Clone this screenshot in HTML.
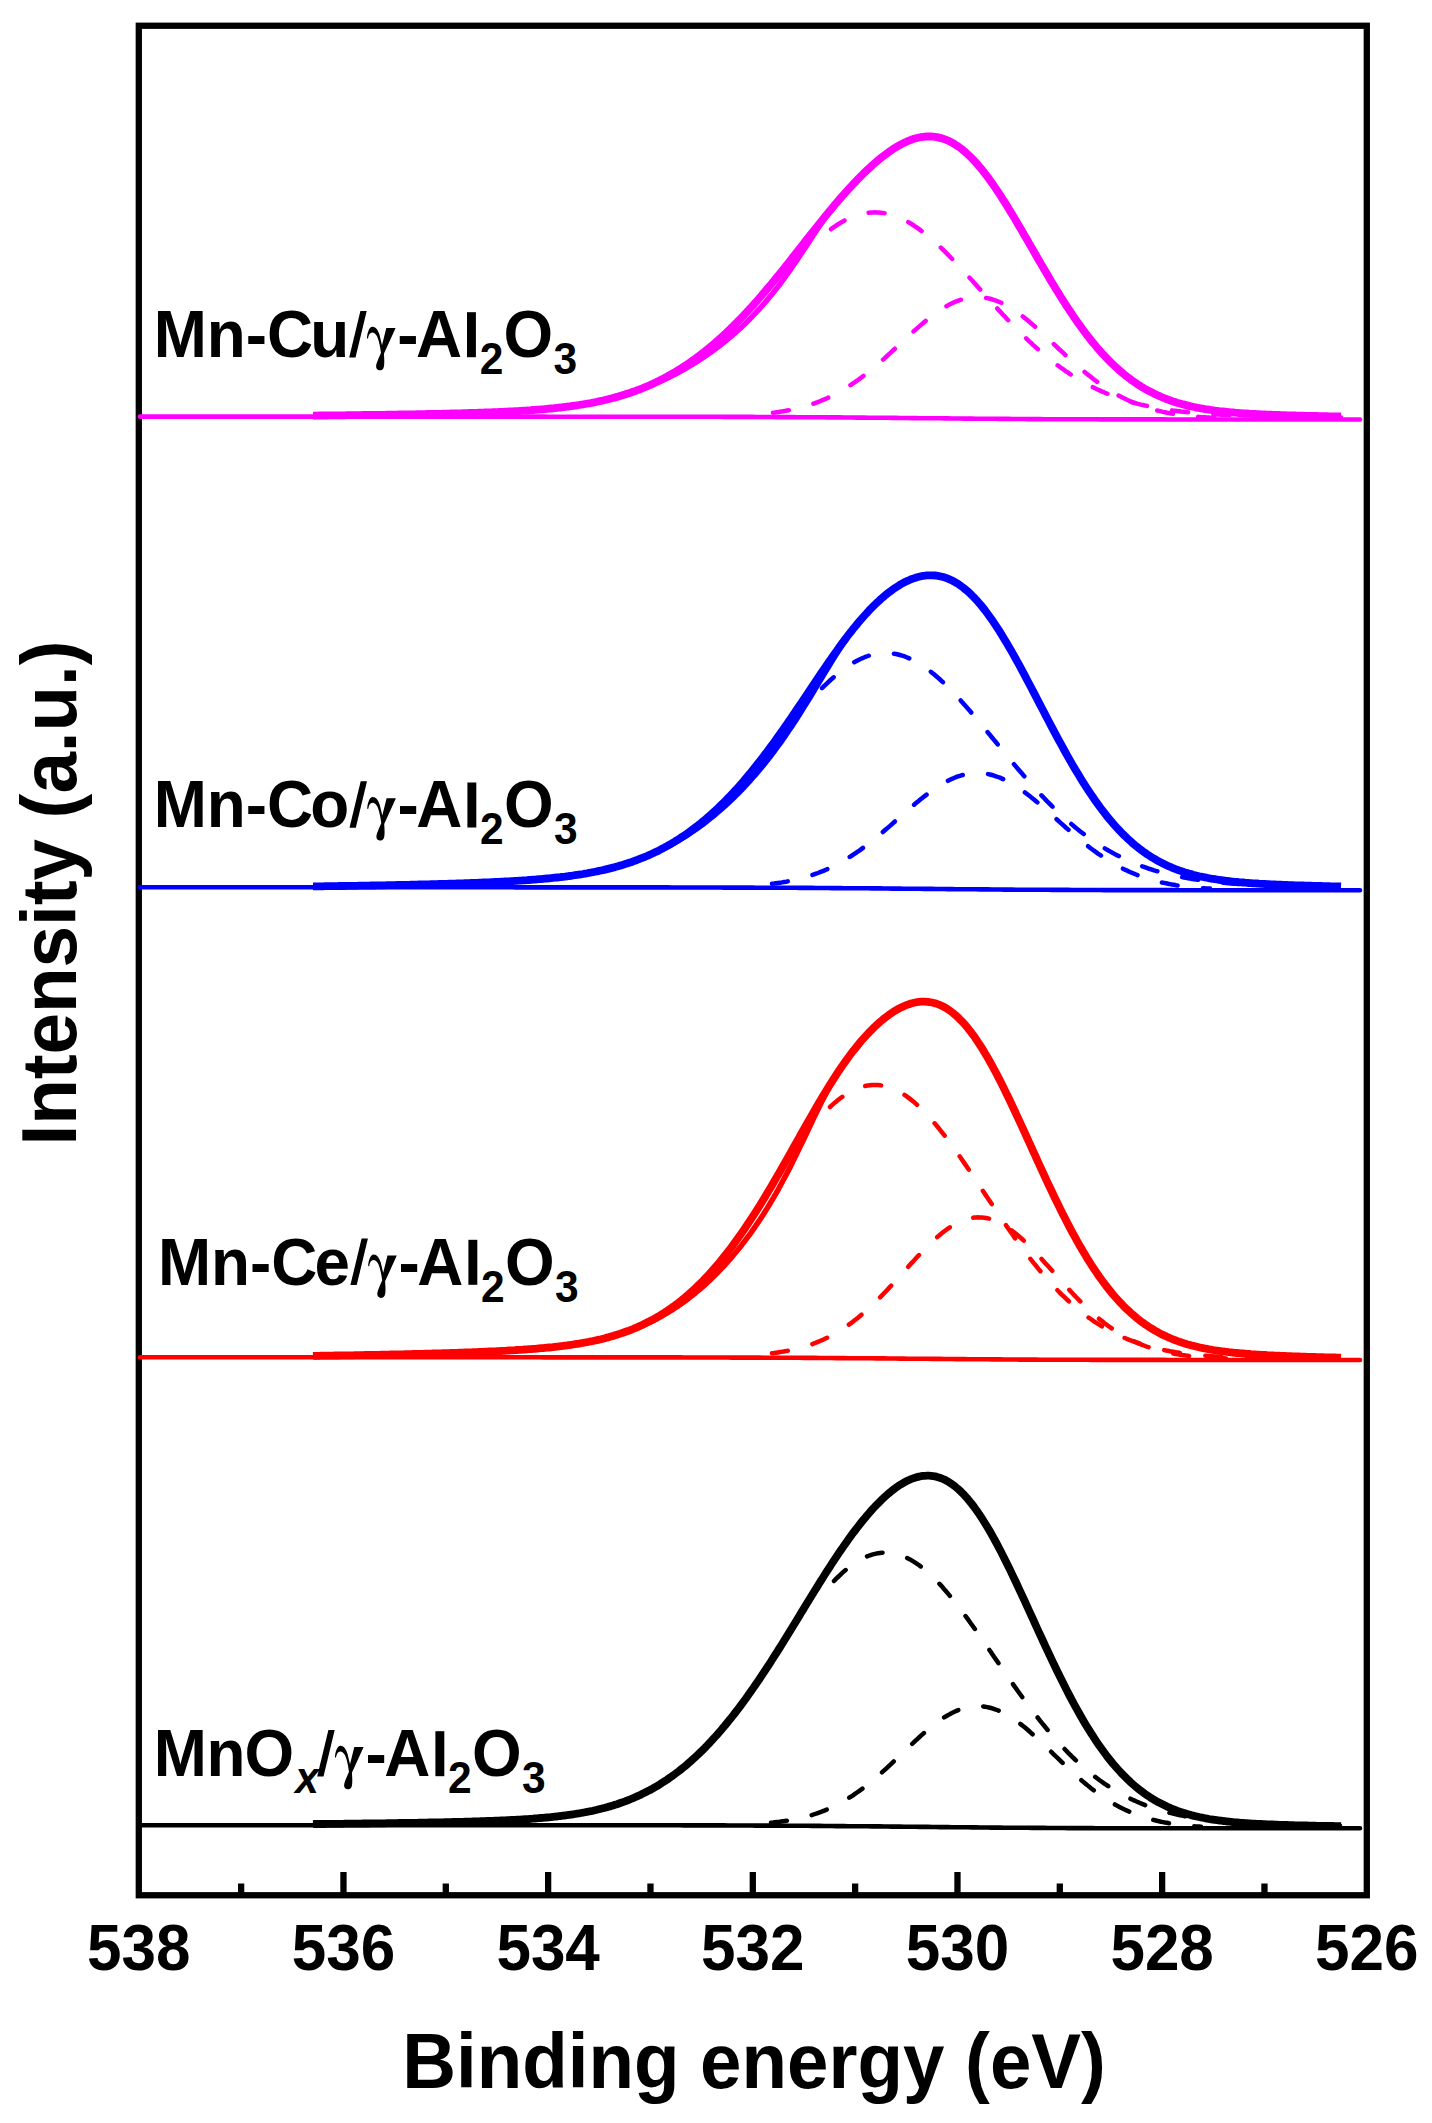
<!DOCTYPE html>
<html><head><meta charset="utf-8"><style>
html,body{margin:0;padding:0;background:#fff;}
svg{display:block;}
text{font-family:"Liberation Sans",sans-serif;font-weight:bold;fill:#000;}
.tl{font-size:62px;}
.at{font-size:74.5px;}
</style></head><body>
<svg width="1432" height="2123" viewBox="0 0 1432 2123">
<rect width="1432" height="2123" fill="#fff"/>
<rect x="138.8" y="25.75" width="1228" height="1869.5" fill="none" stroke="#000" stroke-width="6.3"/>
<path d="M140.0,416.6 L144.0,416.6 L148.0,416.6 L152.0,416.6 L156.0,416.6 L160.0,416.6 L164.0,416.6 L168.0,416.6 L172.0,416.6 L176.0,416.6 L180.0,416.6 L184.0,416.6 L188.0,416.6 L192.0,416.6 L196.0,416.6 L200.0,416.6 L204.0,416.6 L208.0,416.6 L212.0,416.6 L216.0,416.6 L220.0,416.6 L224.0,416.6 L228.0,416.6 L232.0,416.6 L236.0,416.6 L240.0,416.6 L244.0,416.6 L248.0,416.6 L252.0,416.6 L256.0,416.6 L260.0,416.6 L264.0,416.6 L268.0,416.6 L272.0,416.6 L276.0,416.6 L280.0,416.6 L284.0,416.6 L288.0,416.6 L292.0,416.6 L296.0,416.6 L300.0,416.6 L304.0,416.6 L308.0,416.6 L312.0,416.6 L316.0,416.6 L320.0,416.6 L324.0,416.6 L328.0,416.6 L332.0,416.6 L336.0,416.6 L340.0,416.6 L344.0,416.6 L348.0,416.6 L352.0,416.6 L356.0,416.6 L360.0,416.6 L364.0,416.6 L368.0,416.6 L372.0,416.6 L376.0,416.6 L380.0,416.6 L384.0,416.6 L388.0,416.6 L392.0,416.6 L396.0,416.6 L400.0,416.6 L404.0,416.6 L408.0,416.6 L412.0,416.6 L416.0,416.6 L420.0,416.6 L424.0,416.6 L428.0,416.6 L432.0,416.6 L436.0,416.6 L440.0,416.6 L444.0,416.6 L448.0,416.6 L452.0,416.6 L456.0,416.6 L460.0,416.6 L464.0,416.6 L468.0,416.6 L472.0,416.6 L476.0,416.6 L480.0,416.6 L484.0,416.6 L488.0,416.6 L492.0,416.6 L496.0,416.6 L500.0,416.6 L504.0,416.6 L508.0,416.6 L512.0,416.6 L516.0,416.6 L520.0,416.6 L524.0,416.6 L528.0,416.6 L532.0,416.6 L536.0,416.6 L540.0,416.6 L544.0,416.6 L548.0,416.7 L552.0,416.7 L556.0,416.7 L560.0,416.7 L564.0,416.7 L568.0,416.7 L572.0,416.7 L576.0,416.7 L580.0,416.7 L584.0,416.7 L588.0,416.7 L592.0,416.7 L596.0,416.7 L600.0,416.7 L604.0,416.7 L608.0,416.7 L612.0,416.7 L616.0,416.7 L620.0,416.7 L624.0,416.7 L628.0,416.7 L632.0,416.7 L636.0,416.7 L640.0,416.7 L644.0,416.7 L648.0,416.7 L652.0,416.7 L656.0,416.7 L660.0,416.7 L664.0,416.7 L668.0,416.7 L672.0,416.7 L676.0,416.8 L680.0,416.8 L684.0,416.8 L688.0,416.8 L692.0,416.8 L696.0,416.8 L700.0,416.8 L704.0,416.8 L708.0,416.8 L712.0,416.8 L716.0,416.8 L720.0,416.8 L724.0,416.9 L728.0,416.9 L732.0,416.9 L736.0,416.9 L740.0,416.9 L744.0,416.9 L748.0,416.9 L752.0,416.9 L756.0,417.0 L760.0,417.0 L764.0,417.0 L768.0,417.0 L772.0,417.0 L776.0,417.1 L780.0,417.1 L784.0,417.1 L788.0,417.1 L792.0,417.1 L796.0,417.2 L800.0,417.2 L804.0,417.2 L808.0,417.2 L812.0,417.3 L816.0,417.3 L820.0,417.3 L824.0,417.3 L828.0,417.4 L832.0,417.4 L836.0,417.4 L840.0,417.4 L844.0,417.5 L848.0,417.5 L852.0,417.5 L856.0,417.6 L860.0,417.6 L864.0,417.6 L868.0,417.7 L872.0,417.7 L876.0,417.7 L880.0,417.8 L884.0,417.8 L888.0,417.8 L892.0,417.9 L896.0,417.9 L900.0,418.0 L904.0,418.0 L908.0,418.0 L912.0,418.1 L916.0,418.1 L920.0,418.2 L924.0,418.2 L928.0,418.2 L932.0,418.3 L936.0,418.3 L940.0,418.3 L944.0,418.4 L948.0,418.4 L952.0,418.5 L956.0,418.5 L960.0,418.5 L964.0,418.6 L968.0,418.6 L972.0,418.6 L976.0,418.7 L980.0,418.7 L984.0,418.7 L988.0,418.8 L992.0,418.8 L996.0,418.8 L1000.0,418.9 L1004.0,418.9 L1008.0,418.9 L1012.0,419.0 L1016.0,419.0 L1020.0,419.0 L1024.0,419.0 L1028.0,419.1 L1032.0,419.1 L1036.0,419.1 L1040.0,419.1 L1044.0,419.2 L1048.0,419.2 L1052.0,419.2 L1056.0,419.2 L1060.0,419.2 L1064.0,419.2 L1068.0,419.3 L1072.0,419.3 L1076.0,419.3 L1080.0,419.3 L1084.0,419.3 L1088.0,419.3 L1092.0,419.3 L1096.0,419.3 L1100.0,419.4 L1104.0,419.4 L1108.0,419.4 L1112.0,419.4 L1116.0,419.4 L1120.0,419.4 L1124.0,419.4 L1128.0,419.4 L1132.0,419.4 L1136.0,419.4 L1140.0,419.4 L1144.0,419.4 L1148.0,419.4 L1152.0,419.4 L1156.0,419.4 L1160.0,419.4 L1164.0,419.4 L1168.0,419.5 L1172.0,419.5 L1176.0,419.5 L1180.0,419.5 L1184.0,419.5 L1188.0,419.5 L1192.0,419.5 L1196.0,419.5 L1200.0,419.5 L1204.0,419.5 L1208.0,419.5 L1212.0,419.5 L1216.0,419.5 L1220.0,419.5 L1224.0,419.5 L1228.0,419.5 L1232.0,419.5 L1236.0,419.5 L1240.0,419.5 L1244.0,419.5 L1248.0,419.5 L1252.0,419.5 L1256.0,419.5 L1260.0,419.5 L1264.0,419.5 L1268.0,419.5 L1272.0,419.5 L1276.0,419.5 L1280.0,419.5 L1284.0,419.5 L1288.0,419.5 L1292.0,419.5 L1296.0,419.5 L1300.0,419.5 L1304.0,419.5 L1308.0,419.5 L1312.0,419.5 L1316.0,419.5 L1320.0,419.5 L1324.0,419.5 L1328.0,419.5 L1332.0,419.5 L1336.0,419.5 L1340.0,419.5 L1344.0,419.5 L1348.0,419.5 L1352.0,419.5 L1356.0,419.5 L1360.0,419.5" stroke="#ff00ff" stroke-width="4.6" stroke-linecap="round" stroke-linejoin="round" fill="none"/>
<path d="M831.0,229.1 L833.0,227.7 L835.0,226.3 L837.0,225.0 L839.0,223.7 L841.0,222.5 L843.0,221.4 L845.0,220.3 L847.0,219.3 L849.0,218.4 L851.0,217.5 L853.0,216.7 L855.0,215.9 L857.0,215.3 L859.0,214.7 L861.0,214.1 L863.0,213.6 L865.0,213.2 L867.0,212.9 L869.0,212.7 L871.0,212.5 L873.0,212.4 L875.0,212.3 L877.0,212.4 L879.0,212.5 L881.0,212.7 L883.0,212.9 L885.0,213.2 L887.0,213.6 L889.0,214.1 L891.0,214.6 L893.0,215.2 L895.0,215.9 L897.0,216.7 L899.0,217.5 L901.0,218.4 L903.0,219.3 L905.0,220.3 L907.0,221.4 L909.0,222.5 L911.0,223.7 L913.0,225.0 L915.0,226.3 L917.0,227.7 L919.0,229.1 L921.0,230.6 L923.0,232.1 L925.0,233.6 L927.0,235.3 L929.0,236.9 L931.0,238.6 L933.0,240.4 L935.0,242.2 L937.0,244.0 L939.0,245.9 L941.0,247.8 L943.0,249.7 L945.0,251.7 L947.0,253.7 L949.0,255.7 L951.0,257.8 L953.0,259.8 L955.0,261.9 L957.0,264.1 L959.0,266.2 L961.0,268.4 L963.0,270.5 L965.0,272.7 L967.0,274.9 L969.0,277.1 L971.0,279.3 L973.0,281.5 L975.0,283.8 L977.0,286.0 L979.0,288.2 L981.0,290.5 L983.0,292.7 L985.0,294.9 L987.0,297.2 L989.0,299.4 L991.0,301.6 L993.0,303.8 L995.0,306.0 L997.0,308.2 L999.0,310.4 L1001.0,312.5 L1003.0,314.7 L1005.0,316.8 L1007.0,319.0 L1009.0,321.1 L1011.0,323.2 L1013.0,325.2 L1015.0,327.3 L1017.0,329.3 L1019.0,331.3 L1021.0,333.3 L1023.0,335.3 L1025.0,337.2 L1027.0,339.2 L1029.0,341.1 L1031.0,342.9 L1033.0,344.8 L1035.0,346.6 L1037.0,348.4 L1039.0,350.2 L1041.0,351.9 L1043.0,353.6 L1045.0,355.3 L1047.0,357.0 L1049.0,358.6 L1051.0,360.2 L1053.0,361.8 L1055.0,363.3 L1057.0,364.8 L1059.0,366.3 L1061.0,367.8 L1063.0,369.2 L1065.0,370.6 L1067.0,372.0 L1069.0,373.3 L1071.0,374.7 L1073.0,375.9 L1075.0,377.2 L1077.0,378.4 L1079.0,379.6 L1081.0,380.8 L1083.0,382.0 L1085.0,383.1 L1087.0,384.2 L1089.0,385.2 L1091.0,386.3 L1093.0,387.3 L1095.0,388.3 L1097.0,389.2 L1099.0,390.1 L1101.0,391.1 L1103.0,391.9 L1105.0,392.8 L1107.0,393.6 L1109.0,394.4 L1111.0,395.2 L1113.0,396.0 L1115.0,396.7 L1117.0,397.5 L1119.0,398.2 L1121.0,398.8 L1123.0,399.5 L1125.0,400.1 L1127.0,400.8 L1129.0,401.4 L1131.0,401.9 L1133.0,402.5 L1135.0,403.0 L1137.0,403.6 L1139.0,404.1 L1141.0,404.6 L1143.0,405.0 L1145.0,405.5 L1147.0,405.9 L1149.0,406.4 L1151.0,406.8 L1153.0,407.2 L1155.0,407.6 L1157.0,407.9 L1159.0,408.3 L1161.0,408.6 L1163.0,409.0 L1165.0,409.3 L1167.0,409.6 L1169.0,409.9 L1171.0,410.2 L1173.0,410.5 L1175.0,410.7 L1177.0,411.0 L1179.0,411.2 L1181.0,411.5 L1183.0,411.7 L1185.0,411.9 L1187.0,412.1 L1189.0,412.3 L1191.0,412.5 L1193.0,412.7 L1195.0,412.9 L1197.0,413.1 L1199.0,413.2 L1201.0,413.4 L1203.0,413.6 L1205.0,413.7 L1207.0,413.8 L1209.0,414.0 L1211.0,414.1 L1213.0,414.2 L1215.0,414.4 L1217.0,414.5 L1219.0,414.6 L1221.0,414.7 L1223.0,414.8 L1225.0,414.9 L1227.0,415.0 L1229.0,415.1 L1231.0,415.2 L1233.0,415.3 L1235.0,415.4 L1237.0,415.4 L1239.0,415.5 L1241.0,415.6 L1243.0,415.7 L1245.0,415.7 L1247.0,415.8 L1249.0,415.9 L1251.0,415.9 L1253.0,416.0 L1255.0,416.0 L1257.0,416.1 L1259.0,416.1 L1261.0,416.2 L1263.0,416.2 L1265.0,416.3 L1267.0,416.3 L1269.0,416.4 L1271.0,416.4 L1273.0,416.5 L1275.0,416.5 L1277.0,416.6 L1279.0,416.6 L1281.0,416.6 L1283.0,416.7 L1285.0,416.7 L1287.0,416.7 L1289.0,416.8 L1291.0,416.8 L1293.0,416.8 L1295.0,416.9 L1297.0,416.9 L1299.0,416.9 L1301.0,417.0 L1303.0,417.0 L1305.0,417.0 L1307.0,417.0 L1309.0,417.1 L1311.0,417.1 L1313.0,417.1 L1315.0,417.1 L1317.0,417.2 L1319.0,417.2 L1321.0,417.2 L1323.0,417.2 L1325.0,417.2 L1327.0,417.3 L1329.0,417.3 L1331.0,417.3 L1333.0,417.3 L1335.0,417.3 L1337.0,417.4 L1339.0,417.4 L1341.0,417.4" stroke="#ff00ff" stroke-width="4.5" stroke-dasharray="16 25.5" stroke-linecap="round" fill="none"/>
<path d="M773.0,412.7 L775.0,412.5 L777.0,412.2 L779.0,411.9 L781.0,411.6 L783.0,411.3 L785.0,410.9 L787.0,410.5 L789.0,410.2 L791.0,409.8 L793.0,409.3 L795.0,408.9 L797.0,408.4 L799.0,407.9 L801.0,407.4 L803.0,406.9 L805.0,406.3 L807.0,405.7 L809.0,405.1 L811.0,404.4 L813.0,403.8 L815.0,403.1 L817.0,402.3 L819.0,401.6 L821.0,400.8 L823.0,399.9 L825.0,399.1 L827.0,398.2 L829.0,397.3 L831.0,396.3 L833.0,395.3 L835.0,394.3 L837.0,393.2 L839.0,392.1 L841.0,391.0 L843.0,389.8 L845.0,388.6 L847.0,387.4 L849.0,386.1 L851.0,384.8 L853.0,383.4 L855.0,382.1 L857.0,380.7 L859.0,379.2 L861.0,377.7 L863.0,376.2 L865.0,374.7 L867.0,373.1 L869.0,371.5 L871.0,369.9 L873.0,368.2 L875.0,366.5 L877.0,364.8 L879.0,363.1 L881.0,361.4 L883.0,359.6 L885.0,357.8 L887.0,356.0 L889.0,354.2 L891.0,352.3 L893.0,350.5 L895.0,348.6 L897.0,346.8 L899.0,344.9 L901.0,343.0 L903.0,341.2 L905.0,339.3 L907.0,337.5 L909.0,335.6 L911.0,333.8 L913.0,331.9 L915.0,330.1 L917.0,328.4 L919.0,326.6 L921.0,324.9 L923.0,323.2 L925.0,321.5 L927.0,319.8 L929.0,318.2 L931.0,316.7 L933.0,315.1 L935.0,313.7 L937.0,312.2 L939.0,310.8 L941.0,309.5 L943.0,308.2 L945.0,307.0 L947.0,305.9 L949.0,304.8 L951.0,303.8 L953.0,302.8 L955.0,301.9 L957.0,301.1 L959.0,300.3 L961.0,299.7 L963.0,299.1 L965.0,298.5 L967.0,298.1 L969.0,297.7 L971.0,297.4 L973.0,297.2 L975.0,297.1 L977.0,297.1 L979.0,297.1 L981.0,297.2 L983.0,297.4 L985.0,297.7 L987.0,298.1 L989.0,298.5 L991.0,299.0 L993.0,299.6 L995.0,300.3 L997.0,301.0 L999.0,301.8 L1001.0,302.7 L1003.0,303.7 L1005.0,304.7 L1007.0,305.8 L1009.0,307.0 L1011.0,308.2 L1013.0,309.5 L1015.0,310.8 L1017.0,312.2 L1019.0,313.6 L1021.0,315.1 L1023.0,316.6 L1025.0,318.2 L1027.0,319.8 L1029.0,321.5 L1031.0,323.2 L1033.0,324.9 L1035.0,326.6 L1037.0,328.4 L1039.0,330.2 L1041.0,332.1 L1043.0,333.9 L1045.0,335.8 L1047.0,337.6 L1049.0,339.5 L1051.0,341.4 L1053.0,343.3 L1055.0,345.2 L1057.0,347.1 L1059.0,349.0 L1061.0,350.8 L1063.0,352.7 L1065.0,354.6 L1067.0,356.4 L1069.0,358.3 L1071.0,360.1 L1073.0,361.9 L1075.0,363.7 L1077.0,365.5 L1079.0,367.2 L1081.0,368.9 L1083.0,370.6 L1085.0,372.3 L1087.0,373.9 L1089.0,375.5 L1091.0,377.1 L1093.0,378.7 L1095.0,380.2 L1097.0,381.7 L1099.0,383.1 L1101.0,384.5 L1103.0,385.9 L1105.0,387.3 L1107.0,388.6 L1109.0,389.9 L1111.0,391.1 L1113.0,392.3 L1115.0,393.5 L1117.0,394.6 L1119.0,395.7 L1121.0,396.8 L1123.0,397.8 L1125.0,398.8 L1127.0,399.8 L1129.0,400.7 L1131.0,401.6 L1133.0,402.4 L1135.0,403.3 L1137.0,404.1 L1139.0,404.8 L1141.0,405.6 L1143.0,406.3 L1145.0,407.0 L1147.0,407.6 L1149.0,408.2 L1151.0,408.8 L1153.0,409.4 L1155.0,409.9 L1157.0,410.4 L1159.0,410.9 L1161.0,411.4 L1163.0,411.9 L1165.0,412.3 L1167.0,412.7 L1169.0,413.1 L1171.0,413.4 L1173.0,413.8 L1175.0,414.1 L1177.0,414.4 L1179.0,414.7 L1181.0,415.0 L1183.0,415.3 L1185.0,415.5 L1187.0,415.7 L1189.0,416.0 L1191.0,416.2 L1193.0,416.4 L1195.0,416.6 L1197.0,416.7 L1199.0,416.9 L1201.0,417.1 L1203.0,417.2 L1205.0,417.3 L1207.0,417.5 L1209.0,417.6 L1211.0,417.7 L1213.0,417.8 L1215.0,417.9" stroke="#ff00ff" stroke-width="4.5" stroke-dasharray="16 25.5" stroke-linecap="round" fill="none"/>
<path d="M627.0,393.8 L629.0,393.2 L631.0,392.6 L633.0,391.9 L635.1,391.2 L637.1,390.5 L639.1,389.8 L641.1,389.1 L643.1,388.3 L645.2,387.6 L647.2,386.8 L649.2,386.0 L651.3,385.2 L653.3,384.3 L655.4,383.5 L657.4,382.6 L659.4,381.7 L661.5,380.8 L663.6,379.8 L665.6,378.9 L667.7,377.9 L669.8,376.9 L671.8,375.8 L673.9,374.8 L676.0,373.7 L678.1,372.6 L680.1,371.5 L682.2,370.3 L684.3,369.2 L686.4,368.0 L688.5,366.7 L690.6,365.5 L692.7,364.2 L694.9,362.9 L697.0,361.6 L699.1,360.2 L701.2,358.8 L703.3,357.4 L705.5,356.0 L707.6,354.5 L709.7,353.0 L711.9,351.5 L714.0,349.9 L716.1,348.3 L718.3,346.7 L720.4,345.1 L722.5,343.4 L724.7,341.7 L726.8,340.0 L728.9,338.2 L731.1,336.4 L733.2,334.5 L735.3,332.7 L737.4,330.8 L739.6,328.9 L741.7,326.9 L743.8,324.9 L745.9,322.9 L748.0,320.8 L750.1,318.7 L752.1,316.6 L754.2,314.4 L756.3,312.3 L758.3,310.0 L760.4,307.8 L762.4,305.5 L764.4,303.2 L766.4,300.9 L768.4,298.5 L770.4,296.1 L772.4,293.7 L774.3,291.2 L776.3,288.8 L778.2,286.3 L780.2,283.7 L782.1,281.2 L784.0,278.6 L785.8,276.0 L787.7,273.4 L789.6,270.8 L791.4,268.1 L793.3,265.5 L795.1,262.8 L796.9,260.1 L798.7,257.4 L800.5,254.7 L802.3,252.0 L804.1,249.3 L805.9,246.6 L807.7,243.9 L809.5,241.2 L811.2,238.4 L813.0,235.7 L814.8,233.0 L816.6,230.3 L818.4,227.7 L820.2,225.0 L822.0,222.4 L823.8,219.7 L825.6,217.1 L827.4,214.5 L829.3,212.0 L831.1,209.5 L833.0,207.0" stroke="#ff00ff" stroke-width="5.5" stroke-linejoin="round" fill="none"/>
<path d="M313.0,415.6 L315.0,415.6 L317.0,415.6 L319.0,415.5 L321.0,415.5 L323.0,415.5 L325.0,415.5 L327.0,415.5 L329.0,415.4 L331.0,415.4 L333.0,415.4 L335.0,415.4 L337.0,415.4 L339.0,415.3 L341.0,415.3 L343.0,415.3 L345.0,415.3 L347.0,415.2 L349.0,415.2 L351.0,415.2 L353.0,415.2 L355.0,415.1 L357.0,415.1 L359.0,415.1 L361.0,415.1 L363.0,415.0 L365.0,415.0 L367.0,415.0 L369.0,415.0 L371.0,414.9 L373.0,414.9 L375.0,414.9 L377.0,414.9 L379.0,414.8 L381.0,414.8 L383.0,414.8 L385.0,414.8 L387.0,414.7 L389.0,414.7 L391.0,414.7 L393.0,414.6 L395.0,414.6 L397.0,414.6 L399.0,414.5 L401.0,414.5 L403.0,414.5 L405.0,414.4 L407.0,414.4 L409.0,414.4 L411.0,414.3 L413.0,414.3 L415.0,414.3 L417.0,414.2 L419.0,414.2 L421.0,414.2 L423.0,414.1 L425.0,414.1 L427.0,414.0 L429.0,414.0 L431.0,414.0 L433.0,413.9 L435.0,413.9 L437.0,413.8 L439.0,413.8 L441.0,413.8 L443.0,413.7 L445.0,413.7 L447.0,413.6 L449.0,413.6 L451.0,413.5 L453.0,413.5 L455.0,413.4 L457.0,413.4 L459.0,413.3 L461.0,413.3 L463.0,413.2 L465.0,413.2 L467.0,413.1 L469.0,413.0 L471.0,413.0 L473.0,412.9 L475.0,412.9 L477.0,412.8 L479.0,412.7 L481.0,412.7 L483.0,412.6 L485.0,412.5 L487.0,412.4 L489.0,412.4 L491.0,412.3 L493.0,412.2 L495.0,412.1 L497.0,412.1 L499.0,412.0 L501.0,411.9 L503.0,411.8 L505.0,411.7 L507.0,411.6 L509.0,411.5 L511.0,411.4 L513.0,411.3 L515.0,411.2 L517.0,411.1 L519.0,411.0 L521.0,410.8 L523.0,410.7 L525.0,410.6 L527.0,410.5 L529.0,410.3 L531.0,410.2 L533.0,410.0 L535.0,409.9 L537.0,409.7 L539.0,409.6 L541.0,409.4 L543.0,409.3 L545.0,409.1 L547.0,408.9 L549.0,408.7 L551.0,408.5 L553.0,408.3 L555.0,408.1 L557.0,407.9 L559.0,407.7 L561.0,407.5 L563.0,407.2 L565.0,407.0 L567.0,406.7 L569.0,406.5 L571.0,406.2 L573.0,405.9 L575.0,405.6 L577.0,405.3 L579.0,405.0 L581.0,404.7 L583.0,404.4 L585.0,404.0 L587.0,403.7 L589.0,403.3 L591.0,403.0 L593.0,402.6 L595.0,402.2 L597.0,401.8 L599.0,401.3 L601.0,400.9 L603.0,400.5 L605.0,400.0 L607.0,399.5 L609.0,399.0 L611.0,398.5 L613.0,398.0 L615.0,397.4 L617.0,396.9 L619.0,396.3 L621.0,395.7 L623.0,395.1 L625.0,394.5 L627.0,393.8 L629.0,393.2 L631.0,392.5 L633.0,391.8 L635.0,391.1 L637.0,390.3 L639.0,389.6 L641.0,388.8 L643.0,388.0 L645.0,387.2 L647.0,386.3 L649.0,385.5 L651.0,384.6 L653.0,383.7 L655.0,382.7 L657.0,381.8 L659.0,380.8 L661.0,379.8 L663.0,378.8 L665.0,377.7 L667.0,376.6 L669.0,375.5 L671.0,374.4 L673.0,373.2 L675.0,372.1 L677.0,370.9 L679.0,369.6 L681.0,368.4 L683.0,367.1 L685.0,365.8 L687.0,364.5 L689.0,363.1 L691.0,361.7 L693.0,360.3 L695.0,358.9 L697.0,357.4 L699.0,355.9 L701.0,354.4 L703.0,352.8 L705.0,351.3 L707.0,349.6 L709.0,348.0 L711.0,346.4 L713.0,344.7 L715.0,343.0 L717.0,341.2 L719.0,339.4 L721.0,337.6 L723.0,335.8 L725.0,334.0 L727.0,332.1 L729.0,330.2 L731.0,328.2 L733.0,326.3 L735.0,324.3 L737.0,322.3 L739.0,320.2 L741.0,318.2 L743.0,316.1 L745.0,314.0 L747.0,311.8 L749.0,309.7 L751.0,307.5 L753.0,305.3 L755.0,303.0 L757.0,300.8 L759.0,298.5 L761.0,296.2 L763.0,293.8 L765.0,291.5 L767.0,289.1 L769.0,286.8 L771.0,284.4 L773.0,281.9 L775.0,279.5 L777.0,277.1 L779.0,274.6 L781.0,272.1 L783.0,269.6 L785.0,267.1 L787.0,264.6 L789.0,262.1 L791.0,259.6 L793.0,257.0 L795.0,254.5 L797.0,252.0 L799.0,249.4 L801.0,246.9 L803.0,244.3 L805.0,241.8 L807.0,239.2 L809.0,236.7 L811.0,234.1 L813.0,231.6 L815.0,229.1 L817.0,226.6 L819.0,224.1 L821.0,221.6 L823.0,219.1 L825.0,216.6 L827.0,214.2 L829.0,211.8 L831.0,209.4 L833.0,207.0 L835.0,204.6 L837.0,202.2 L839.0,199.9 L841.0,197.6 L843.0,195.3 L845.0,193.1 L847.0,190.8 L849.0,188.6 L851.0,186.5 L853.0,184.3 L855.0,182.2 L857.0,180.1 L859.0,178.1 L861.0,176.0 L863.0,174.1 L865.0,172.1 L867.0,170.2 L869.0,168.3 L871.0,166.5 L873.0,164.7 L875.0,162.9 L877.0,161.2 L879.0,159.5 L881.0,157.9 L883.0,156.3 L885.0,154.8 L887.0,153.3 L889.0,151.8 L891.0,150.5 L893.0,149.1 L895.0,147.8 L897.0,146.6 L899.0,145.5 L901.0,144.4 L903.0,143.3 L905.0,142.4 L907.0,141.4 L909.0,140.6 L911.0,139.8 L913.0,139.1 L915.0,138.5 L917.0,138.0 L919.0,137.5 L921.0,137.1 L923.0,136.8 L925.0,136.6 L927.0,136.5 L929.0,136.4 L931.0,136.5 L933.0,136.6 L935.0,136.8 L937.0,137.1 L939.0,137.6 L941.0,138.1 L943.0,138.7 L945.0,139.4 L947.0,140.2 L949.0,141.1 L951.0,142.1 L953.0,143.2 L955.0,144.4 L957.0,145.7 L959.0,147.0 L961.0,148.5 L963.0,150.1 L965.0,151.8 L967.0,153.6 L969.0,155.5 L971.0,157.4 L973.0,159.5 L975.0,161.6 L977.0,163.8 L979.0,166.2 L981.0,168.6 L983.0,171.0 L985.0,173.6 L987.0,176.2 L989.0,178.9 L991.0,181.7 L993.0,184.5 L995.0,187.4 L997.0,190.4 L999.0,193.4 L1001.0,196.4 L1003.0,199.6 L1005.0,202.7 L1007.0,205.9 L1009.0,209.2 L1011.0,212.5 L1013.0,215.8 L1015.0,219.1 L1017.0,222.5 L1019.0,225.9 L1021.0,229.3 L1023.0,232.7 L1025.0,236.2 L1027.0,239.6 L1029.0,243.1 L1031.0,246.6 L1033.0,250.0 L1035.0,253.5 L1037.0,257.0 L1039.0,260.4 L1041.0,263.9 L1043.0,267.3 L1045.0,270.7 L1047.0,274.1 L1049.0,277.5 L1051.0,280.9 L1053.0,284.2 L1055.0,287.5 L1057.0,290.8 L1059.0,294.0 L1061.0,297.2 L1063.0,300.4 L1065.0,303.5 L1067.0,306.6 L1069.0,309.7 L1071.0,312.7 L1073.0,315.6 L1075.0,318.6 L1077.0,321.4 L1079.0,324.3 L1081.0,327.1 L1083.0,329.8 L1085.0,332.5 L1087.0,335.1 L1089.0,337.7 L1091.0,340.2 L1093.0,342.7 L1095.0,345.1 L1097.0,347.5 L1099.0,349.8 L1101.0,352.1 L1103.0,354.3 L1105.0,356.4 L1107.0,358.5 L1109.0,360.6 L1111.0,362.6 L1113.0,364.5 L1115.0,366.4 L1117.0,368.2 L1119.0,370.0 L1121.0,371.8 L1123.0,373.4 L1125.0,375.1 L1127.0,376.7 L1129.0,378.2 L1131.0,379.7 L1133.0,381.1 L1135.0,382.5 L1137.0,383.9 L1139.0,385.2 L1141.0,386.4 L1143.0,387.7 L1145.0,388.8 L1147.0,390.0 L1149.0,391.1 L1151.0,392.1 L1153.0,393.1 L1155.0,394.1 L1157.0,395.0 L1159.0,395.9 L1161.0,396.8 L1163.0,397.7 L1165.0,398.5 L1167.0,399.2 L1169.0,400.0 L1171.0,400.7 L1173.0,401.4 L1175.0,402.0 L1177.0,402.7 L1179.0,403.3 L1181.0,403.8 L1183.0,404.4 L1185.0,404.9 L1187.0,405.4 L1189.0,405.9 L1191.0,406.4 L1193.0,406.8 L1195.0,407.2 L1197.0,407.6 L1199.0,408.0 L1201.0,408.4 L1203.0,408.7 L1205.0,409.1 L1207.0,409.4 L1209.0,409.7 L1211.0,410.0 L1213.0,410.3 L1215.0,410.6 L1217.0,410.8 L1219.0,411.1 L1221.0,411.3 L1223.0,411.5 L1225.0,411.7 L1227.0,411.9 L1229.0,412.1 L1231.0,412.3 L1233.0,412.5 L1235.0,412.7 L1237.0,412.8 L1239.0,413.0 L1241.0,413.1 L1243.0,413.3 L1245.0,413.4 L1247.0,413.5 L1249.0,413.7 L1251.0,413.8 L1253.0,413.9 L1255.0,414.0 L1257.0,414.1 L1259.0,414.2 L1261.0,414.3 L1263.0,414.4 L1265.0,414.5 L1267.0,414.6 L1269.0,414.7 L1271.0,414.7 L1273.0,414.8 L1275.0,414.9 L1277.0,415.0 L1279.0,415.0 L1281.0,415.1 L1283.0,415.2 L1285.0,415.2 L1287.0,415.3 L1289.0,415.3 L1291.0,415.4 L1293.0,415.5 L1295.0,415.5 L1297.0,415.6 L1299.0,415.6 L1301.0,415.7 L1303.0,415.7 L1305.0,415.8 L1307.0,415.8 L1309.0,415.9 L1311.0,415.9 L1313.0,415.9 L1315.0,416.0 L1317.0,416.0 L1319.0,416.1 L1321.0,416.1 L1323.0,416.1 L1325.0,416.2 L1327.0,416.2 L1329.0,416.3 L1331.0,416.3 L1333.0,416.3 L1335.0,416.4 L1337.0,416.4 L1339.0,416.4 L1341.0,416.5" stroke="#ff00ff" stroke-width="7.8" stroke-linejoin="round" fill="none"/>
<path d="M140.0,887.3 L144.0,887.3 L148.0,887.3 L152.0,887.3 L156.0,887.3 L160.0,887.3 L164.0,887.3 L168.0,887.3 L172.0,887.3 L176.0,887.3 L180.0,887.3 L184.0,887.3 L188.0,887.3 L192.0,887.3 L196.0,887.3 L200.0,887.3 L204.0,887.3 L208.0,887.3 L212.0,887.3 L216.0,887.3 L220.0,887.3 L224.0,887.3 L228.0,887.3 L232.0,887.3 L236.0,887.3 L240.0,887.3 L244.0,887.3 L248.0,887.3 L252.0,887.3 L256.0,887.3 L260.0,887.3 L264.0,887.3 L268.0,887.3 L272.0,887.3 L276.0,887.3 L280.0,887.3 L284.0,887.3 L288.0,887.3 L292.0,887.3 L296.0,887.3 L300.0,887.3 L304.0,887.3 L308.0,887.3 L312.0,887.3 L316.0,887.3 L320.0,887.3 L324.0,887.3 L328.0,887.3 L332.0,887.3 L336.0,887.3 L340.0,887.3 L344.0,887.3 L348.0,887.3 L352.0,887.3 L356.0,887.3 L360.0,887.3 L364.0,887.3 L368.0,887.3 L372.0,887.3 L376.0,887.3 L380.0,887.3 L384.0,887.3 L388.0,887.3 L392.0,887.3 L396.0,887.3 L400.0,887.3 L404.0,887.3 L408.0,887.3 L412.0,887.3 L416.0,887.3 L420.0,887.3 L424.0,887.3 L428.0,887.3 L432.0,887.3 L436.0,887.3 L440.0,887.3 L444.0,887.3 L448.0,887.3 L452.0,887.3 L456.0,887.3 L460.0,887.3 L464.0,887.3 L468.0,887.3 L472.0,887.3 L476.0,887.3 L480.0,887.3 L484.0,887.3 L488.0,887.3 L492.0,887.3 L496.0,887.3 L500.0,887.3 L504.0,887.3 L508.0,887.3 L512.0,887.3 L516.0,887.4 L520.0,887.4 L524.0,887.4 L528.0,887.4 L532.0,887.4 L536.0,887.4 L540.0,887.4 L544.0,887.4 L548.0,887.4 L552.0,887.4 L556.0,887.4 L560.0,887.4 L564.0,887.4 L568.0,887.4 L572.0,887.4 L576.0,887.4 L580.0,887.4 L584.0,887.4 L588.0,887.4 L592.0,887.4 L596.0,887.4 L600.0,887.4 L604.0,887.4 L608.0,887.4 L612.0,887.4 L616.0,887.4 L620.0,887.4 L624.0,887.4 L628.0,887.4 L632.0,887.4 L636.0,887.4 L640.0,887.4 L644.0,887.4 L648.0,887.4 L652.0,887.4 L656.0,887.4 L660.0,887.4 L664.0,887.4 L668.0,887.4 L672.0,887.5 L676.0,887.5 L680.0,887.5 L684.0,887.5 L688.0,887.5 L692.0,887.5 L696.0,887.5 L700.0,887.5 L704.0,887.5 L708.0,887.5 L712.0,887.5 L716.0,887.5 L720.0,887.5 L724.0,887.6 L728.0,887.6 L732.0,887.6 L736.0,887.6 L740.0,887.6 L744.0,887.6 L748.0,887.6 L752.0,887.6 L756.0,887.7 L760.0,887.7 L764.0,887.7 L768.0,887.7 L772.0,887.7 L776.0,887.7 L780.0,887.8 L784.0,887.8 L788.0,887.8 L792.0,887.8 L796.0,887.8 L800.0,887.9 L804.0,887.9 L808.0,887.9 L812.0,887.9 L816.0,888.0 L820.0,888.0 L824.0,888.0 L828.0,888.0 L832.0,888.1 L836.0,888.1 L840.0,888.1 L844.0,888.2 L848.0,888.2 L852.0,888.2 L856.0,888.2 L860.0,888.3 L864.0,888.3 L868.0,888.3 L872.0,888.4 L876.0,888.4 L880.0,888.4 L884.0,888.5 L888.0,888.5 L892.0,888.6 L896.0,888.6 L900.0,888.6 L904.0,888.7 L908.0,888.7 L912.0,888.7 L916.0,888.8 L920.0,888.8 L924.0,888.9 L928.0,888.9 L932.0,888.9 L936.0,889.0 L940.0,889.0 L944.0,889.0 L948.0,889.1 L952.0,889.1 L956.0,889.2 L960.0,889.2 L964.0,889.2 L968.0,889.3 L972.0,889.3 L976.0,889.3 L980.0,889.4 L984.0,889.4 L988.0,889.4 L992.0,889.5 L996.0,889.5 L1000.0,889.5 L1004.0,889.6 L1008.0,889.6 L1012.0,889.6 L1016.0,889.7 L1020.0,889.7 L1024.0,889.7 L1028.0,889.7 L1032.0,889.8 L1036.0,889.8 L1040.0,889.8 L1044.0,889.8 L1048.0,889.8 L1052.0,889.9 L1056.0,889.9 L1060.0,889.9 L1064.0,889.9 L1068.0,889.9 L1072.0,890.0 L1076.0,890.0 L1080.0,890.0 L1084.0,890.0 L1088.0,890.0 L1092.0,890.0 L1096.0,890.0 L1100.0,890.0 L1104.0,890.1 L1108.0,890.1 L1112.0,890.1 L1116.0,890.1 L1120.0,890.1 L1124.0,890.1 L1128.0,890.1 L1132.0,890.1 L1136.0,890.1 L1140.0,890.1 L1144.0,890.1 L1148.0,890.1 L1152.0,890.1 L1156.0,890.1 L1160.0,890.1 L1164.0,890.1 L1168.0,890.1 L1172.0,890.1 L1176.0,890.2 L1180.0,890.2 L1184.0,890.2 L1188.0,890.2 L1192.0,890.2 L1196.0,890.2 L1200.0,890.2 L1204.0,890.2 L1208.0,890.2 L1212.0,890.2 L1216.0,890.2 L1220.0,890.2 L1224.0,890.2 L1228.0,890.2 L1232.0,890.2 L1236.0,890.2 L1240.0,890.2 L1244.0,890.2 L1248.0,890.2 L1252.0,890.2 L1256.0,890.2 L1260.0,890.2 L1264.0,890.2 L1268.0,890.2 L1272.0,890.2 L1276.0,890.2 L1280.0,890.2 L1284.0,890.2 L1288.0,890.2 L1292.0,890.2 L1296.0,890.2 L1300.0,890.2 L1304.0,890.2 L1308.0,890.2 L1312.0,890.2 L1316.0,890.2 L1320.0,890.2 L1324.0,890.2 L1328.0,890.2 L1332.0,890.2 L1336.0,890.2 L1340.0,890.2 L1344.0,890.2 L1348.0,890.2 L1352.0,890.2 L1356.0,890.2 L1360.0,890.2" stroke="#0000ff" stroke-width="4.6" stroke-linecap="round" stroke-linejoin="round" fill="none"/>
<path d="M822.0,688.2 L824.0,686.2 L826.0,684.3 L828.0,682.4 L830.0,680.5 L832.0,678.7 L834.0,677.0 L836.0,675.3 L838.0,673.6 L840.0,672.0 L842.0,670.4 L844.0,669.0 L846.0,667.5 L848.0,666.1 L850.0,664.8 L852.0,663.6 L854.0,662.4 L856.0,661.3 L858.0,660.2 L860.0,659.2 L862.0,658.3 L864.0,657.5 L866.0,656.7 L868.0,656.0 L870.0,655.3 L872.0,654.8 L874.0,654.3 L876.0,653.9 L878.0,653.6 L880.0,653.3 L882.0,653.1 L884.0,653.0 L886.0,653.0 L888.0,653.1 L890.0,653.2 L892.0,653.4 L894.0,653.7 L896.0,654.0 L898.0,654.5 L900.0,655.0 L902.0,655.6 L904.0,656.2 L906.0,657.0 L908.0,657.8 L910.0,658.6 L912.0,659.6 L914.0,660.6 L916.0,661.7 L918.0,662.8 L920.0,664.1 L922.0,665.3 L924.0,666.7 L926.0,668.1 L928.0,669.6 L930.0,671.1 L932.0,672.7 L934.0,674.3 L936.0,676.0 L938.0,677.7 L940.0,679.5 L942.0,681.3 L944.0,683.2 L946.0,685.1 L948.0,687.1 L950.0,689.1 L952.0,691.2 L954.0,693.2 L956.0,695.4 L958.0,697.5 L960.0,699.7 L962.0,701.9 L964.0,704.2 L966.0,706.4 L968.0,708.7 L970.0,711.0 L972.0,713.4 L974.0,715.7 L976.0,718.1 L978.0,720.5 L980.0,722.9 L982.0,725.3 L984.0,727.7 L986.0,730.1 L988.0,732.6 L990.0,735.0 L992.0,737.5 L994.0,739.9 L996.0,742.3 L998.0,744.8 L1000.0,747.2 L1002.0,749.7 L1004.0,752.1 L1006.0,754.5 L1008.0,757.0 L1010.0,759.4 L1012.0,761.8 L1014.0,764.2 L1016.0,766.6 L1018.0,768.9 L1020.0,771.3 L1022.0,773.6 L1024.0,775.9 L1026.0,778.2 L1028.0,780.5 L1030.0,782.8 L1032.0,785.0 L1034.0,787.3 L1036.0,789.5 L1038.0,791.6 L1040.0,793.8 L1042.0,795.9 L1044.0,798.0 L1046.0,800.1 L1048.0,802.2 L1050.0,804.2 L1052.0,806.2 L1054.0,808.2 L1056.0,810.1 L1058.0,812.0 L1060.0,813.9 L1062.0,815.8 L1064.0,817.6 L1066.0,819.4 L1068.0,821.2 L1070.0,822.9 L1072.0,824.6 L1074.0,826.3 L1076.0,827.9 L1078.0,829.6 L1080.0,831.2 L1082.0,832.7 L1084.0,834.2 L1086.0,835.7 L1088.0,837.2 L1090.0,838.7 L1092.0,840.1 L1094.0,841.4 L1096.0,842.8 L1098.0,844.1 L1100.0,845.4 L1102.0,846.7 L1104.0,847.9 L1106.0,849.1 L1108.0,850.3 L1110.0,851.4 L1112.0,852.5 L1114.0,853.6 L1116.0,854.7 L1118.0,855.7 L1120.0,856.7 L1122.0,857.7 L1124.0,858.7 L1126.0,859.6 L1128.0,860.5 L1130.0,861.4 L1132.0,862.3 L1134.0,863.1 L1136.0,863.9 L1138.0,864.7 L1140.0,865.5 L1142.0,866.2 L1144.0,866.9 L1146.0,867.6 L1148.0,868.3 L1150.0,869.0 L1152.0,869.6 L1154.0,870.3 L1156.0,870.9 L1158.0,871.4 L1160.0,872.0 L1162.0,872.5 L1164.0,873.1 L1166.0,873.6 L1168.0,874.1 L1170.0,874.6 L1172.0,875.0 L1174.0,875.5 L1176.0,875.9 L1178.0,876.3 L1180.0,876.7 L1182.0,877.1 L1184.0,877.5 L1186.0,877.9 L1188.0,878.2 L1190.0,878.6 L1192.0,878.9 L1194.0,879.2 L1196.0,879.5 L1198.0,879.8 L1200.0,880.1 L1202.0,880.4 L1204.0,880.7 L1206.0,880.9 L1208.0,881.2 L1210.0,881.4 L1212.0,881.6 L1214.0,881.8 L1216.0,882.1 L1218.0,882.3 L1220.0,882.5 L1222.0,882.6 L1224.0,882.8 L1226.0,883.0 L1228.0,883.2 L1230.0,883.3 L1232.0,883.5 L1234.0,883.7 L1236.0,883.8 L1238.0,883.9 L1240.0,884.1 L1242.0,884.2 L1244.0,884.3 L1246.0,884.5 L1248.0,884.6 L1250.0,884.7 L1252.0,884.8 L1254.0,884.9 L1256.0,885.0 L1258.0,885.1 L1260.0,885.2 L1262.0,885.3 L1264.0,885.4 L1266.0,885.5 L1268.0,885.5 L1270.0,885.6 L1272.0,885.7 L1274.0,885.8 L1276.0,885.8 L1278.0,885.9 L1280.0,886.0 L1282.0,886.0 L1284.0,886.1 L1286.0,886.2 L1288.0,886.2 L1290.0,886.3 L1292.0,886.3 L1294.0,886.4 L1296.0,886.4 L1298.0,886.5 L1300.0,886.5 L1302.0,886.6 L1304.0,886.6 L1306.0,886.7 L1308.0,886.7 L1310.0,886.8 L1312.0,886.8 L1314.0,886.8 L1316.0,886.9 L1318.0,886.9 L1320.0,887.0 L1322.0,887.0 L1324.0,887.0 L1326.0,887.1 L1328.0,887.1 L1330.0,887.1 L1332.0,887.2 L1334.0,887.2 L1336.0,887.2 L1338.0,887.2 L1340.0,887.3" stroke="#0000ff" stroke-width="4.5" stroke-dasharray="16 25.5" stroke-linecap="round" fill="none"/>
<path d="M772.0,883.8 L774.0,883.6 L776.0,883.3 L778.0,883.0 L780.0,882.7 L782.0,882.4 L784.0,882.0 L786.0,881.7 L788.0,881.3 L790.0,880.9 L792.0,880.5 L794.0,880.1 L796.0,879.6 L798.0,879.1 L800.0,878.6 L802.0,878.1 L804.0,877.6 L806.0,877.0 L808.0,876.4 L810.0,875.7 L812.0,875.1 L814.0,874.4 L816.0,873.7 L818.0,873.0 L820.0,872.2 L822.0,871.4 L824.0,870.6 L826.0,869.7 L828.0,868.8 L830.0,867.9 L832.0,866.9 L834.0,865.9 L836.0,864.9 L838.0,863.8 L840.0,862.7 L842.0,861.6 L844.0,860.5 L846.0,859.3 L848.0,858.1 L850.0,856.8 L852.0,855.5 L854.0,854.2 L856.0,852.8 L858.0,851.5 L860.0,850.1 L862.0,848.6 L864.0,847.1 L866.0,845.6 L868.0,844.1 L870.0,842.6 L872.0,841.0 L874.0,839.4 L876.0,837.8 L878.0,836.1 L880.0,834.4 L882.0,832.8 L884.0,831.0 L886.0,829.3 L888.0,827.6 L890.0,825.9 L892.0,824.1 L894.0,822.3 L896.0,820.6 L898.0,818.8 L900.0,817.0 L902.0,815.3 L904.0,813.5 L906.0,811.8 L908.0,810.0 L910.0,808.3 L912.0,806.5 L914.0,804.8 L916.0,803.1 L918.0,801.5 L920.0,799.8 L922.0,798.2 L924.0,796.6 L926.0,795.1 L928.0,793.6 L930.0,792.1 L932.0,790.6 L934.0,789.2 L936.0,787.9 L938.0,786.5 L940.0,785.3 L942.0,784.1 L944.0,782.9 L946.0,781.8 L948.0,780.8 L950.0,779.8 L952.0,778.8 L954.0,778.0 L956.0,777.2 L958.0,776.4 L960.0,775.8 L962.0,775.2 L964.0,774.7 L966.0,774.2 L968.0,773.8 L970.0,773.5 L972.0,773.3 L974.0,773.1 L976.0,773.0 L978.0,773.0 L980.0,773.1 L982.0,773.2 L984.0,773.5 L986.0,773.7 L988.0,774.1 L990.0,774.5 L992.0,775.0 L994.0,775.6 L996.0,776.3 L998.0,777.0 L1000.0,777.7 L1002.0,778.6 L1004.0,779.5 L1006.0,780.5 L1008.0,781.5 L1010.0,782.6 L1012.0,783.8 L1014.0,785.0 L1016.0,786.2 L1018.0,787.5 L1020.0,788.9 L1022.0,790.3 L1024.0,791.7 L1026.0,793.2 L1028.0,794.8 L1030.0,796.3 L1032.0,797.9 L1034.0,799.5 L1036.0,801.2 L1038.0,802.9 L1040.0,804.6 L1042.0,806.3 L1044.0,808.0 L1046.0,809.8 L1048.0,811.6 L1050.0,813.3 L1052.0,815.1 L1054.0,816.9 L1056.0,818.7 L1058.0,820.5 L1060.0,822.3 L1062.0,824.1 L1064.0,825.9 L1066.0,827.7 L1068.0,829.4 L1070.0,831.2 L1072.0,832.9 L1074.0,834.7 L1076.0,836.4 L1078.0,838.0 L1080.0,839.7 L1082.0,841.4 L1084.0,843.0 L1086.0,844.6 L1088.0,846.1 L1090.0,847.7 L1092.0,849.2 L1094.0,850.7 L1096.0,852.1 L1098.0,853.6 L1100.0,855.0 L1102.0,856.3 L1104.0,857.7 L1106.0,859.0 L1108.0,860.2 L1110.0,861.5 L1112.0,862.7 L1114.0,863.8 L1116.0,865.0 L1118.0,866.1 L1120.0,867.1 L1122.0,868.2 L1124.0,869.2 L1126.0,870.1 L1128.0,871.1 L1130.0,872.0 L1132.0,872.8 L1134.0,873.7 L1136.0,874.5 L1138.0,875.3 L1140.0,876.0 L1142.0,876.7 L1144.0,877.4 L1146.0,878.1 L1148.0,878.7 L1150.0,879.3 L1152.0,879.9 L1154.0,880.5 L1156.0,881.0 L1158.0,881.5 L1160.0,882.0 L1162.0,882.5 L1164.0,882.9 L1166.0,883.3 L1168.0,883.7 L1170.0,884.1 L1172.0,884.5 L1174.0,884.8 L1176.0,885.2 L1178.0,885.5 L1180.0,885.8 L1182.0,886.0 L1184.0,886.3 L1186.0,886.5 L1188.0,886.8 L1190.0,887.0 L1192.0,887.2 L1194.0,887.4 L1196.0,887.6 L1198.0,887.8 L1200.0,887.9 L1202.0,888.1 L1204.0,888.2 L1206.0,888.4 L1208.0,888.5 L1210.0,888.6" stroke="#0000ff" stroke-width="4.5" stroke-dasharray="16 25.5" stroke-linecap="round" fill="none"/>
<path d="M631.0,862.2 L633.0,861.5 L635.0,860.8 L637.0,860.0 L639.0,859.3 L641.0,858.6 L643.1,857.8 L645.1,857.0 L647.1,856.2 L649.1,855.3 L651.1,854.5 L653.1,853.6 L655.2,852.7 L657.2,851.8 L659.2,850.8 L661.2,849.8 L663.3,848.8 L665.3,847.8 L667.4,846.8 L669.4,845.7 L671.4,844.6 L673.5,843.4 L675.5,842.3 L677.6,841.1 L679.6,839.9 L681.7,838.7 L683.7,837.4 L685.8,836.1 L687.9,834.8 L689.9,833.4 L692.0,832.0 L694.1,830.6 L696.1,829.2 L698.2,827.7 L700.3,826.2 L702.4,824.7 L704.5,823.1 L706.5,821.5 L708.6,819.9 L710.7,818.2 L712.8,816.5 L714.9,814.8 L717.0,813.0 L719.1,811.2 L721.2,809.4 L723.3,807.5 L725.4,805.6 L727.5,803.7 L729.6,801.7 L731.7,799.7 L733.8,797.7 L735.9,795.6 L738.1,793.5 L740.2,791.3 L742.3,789.2 L744.4,787.0 L746.5,784.7 L748.6,782.4 L750.7,780.1 L752.7,777.7 L754.8,775.4 L756.9,772.9 L759.0,770.5 L761.1,768.0 L763.1,765.5 L765.2,762.9 L767.3,760.3 L769.3,757.7 L771.4,755.0 L773.4,752.4 L775.4,749.6 L777.4,746.9 L779.5,744.1 L781.5,741.3 L783.5,738.5 L785.5,735.6 L787.4,732.7 L789.4,729.8 L791.4,726.9 L793.3,724.0 L795.3,721.0 L797.2,718.0 L799.1,715.0 L801.0,712.0 L802.9,708.9 L804.8,705.9 L806.7,702.8 L808.6,699.7 L810.5,696.7 L812.4,693.6 L814.2,690.5 L816.1,687.4 L817.9,684.3 L819.8,681.3 L821.6,678.2 L823.5,675.1 L825.3,672.1 L827.2,669.0 L829.0,666.0 L830.8,663.0 L832.7,660.0 L834.5,657.1 L836.4,654.1 L838.2,651.2 L840.1,648.4 L841.9,645.5 L843.8,642.7 L845.7,640.0 L847.5,637.2 L849.4,634.5 L851.3,631.9 L853.2,629.3 L855.1,626.8 L857.1,624.3 L859.0,621.8" stroke="#0000ff" stroke-width="5.5" stroke-linejoin="round" fill="none"/>
<path d="M313.0,886.4 L315.0,886.4 L317.0,886.4 L319.0,886.3 L321.0,886.3 L323.0,886.3 L325.0,886.2 L327.0,886.2 L329.0,886.2 L331.0,886.2 L333.0,886.1 L335.0,886.1 L337.0,886.1 L339.0,886.0 L341.0,886.0 L343.0,886.0 L345.0,886.0 L347.0,885.9 L349.0,885.9 L351.0,885.9 L353.0,885.8 L355.0,885.8 L357.0,885.8 L359.0,885.7 L361.0,885.7 L363.0,885.7 L365.0,885.6 L367.0,885.6 L369.0,885.6 L371.0,885.5 L373.0,885.5 L375.0,885.5 L377.0,885.4 L379.0,885.4 L381.0,885.3 L383.0,885.3 L385.0,885.3 L387.0,885.2 L389.0,885.2 L391.0,885.2 L393.0,885.1 L395.0,885.1 L397.0,885.0 L399.0,885.0 L401.0,884.9 L403.0,884.9 L405.0,884.9 L407.0,884.8 L409.0,884.8 L411.0,884.7 L413.0,884.7 L415.0,884.6 L417.0,884.6 L419.0,884.5 L421.0,884.5 L423.0,884.4 L425.0,884.4 L427.0,884.3 L429.0,884.3 L431.0,884.2 L433.0,884.2 L435.0,884.1 L437.0,884.1 L439.0,884.0 L441.0,884.0 L443.0,883.9 L445.0,883.9 L447.0,883.8 L449.0,883.7 L451.0,883.7 L453.0,883.6 L455.0,883.6 L457.0,883.5 L459.0,883.4 L461.0,883.4 L463.0,883.3 L465.0,883.2 L467.0,883.2 L469.0,883.1 L471.0,883.0 L473.0,882.9 L475.0,882.9 L477.0,882.8 L479.0,882.7 L481.0,882.6 L483.0,882.5 L485.0,882.5 L487.0,882.4 L489.0,882.3 L491.0,882.2 L493.0,882.1 L495.0,882.0 L497.0,881.9 L499.0,881.8 L501.0,881.7 L503.0,881.6 L505.0,881.5 L507.0,881.4 L509.0,881.3 L511.0,881.2 L513.0,881.1 L515.0,880.9 L517.0,880.8 L519.0,880.7 L521.0,880.6 L523.0,880.4 L525.0,880.3 L527.0,880.2 L529.0,880.0 L531.0,879.9 L533.0,879.7 L535.0,879.6 L537.0,879.4 L539.0,879.2 L541.0,879.1 L543.0,878.9 L545.0,878.7 L547.0,878.5 L549.0,878.3 L551.0,878.1 L553.0,877.9 L555.0,877.7 L557.0,877.5 L559.0,877.3 L561.0,877.0 L563.0,876.8 L565.0,876.6 L567.0,876.3 L569.0,876.0 L571.0,875.8 L573.0,875.5 L575.0,875.2 L577.0,874.9 L579.0,874.6 L581.0,874.3 L583.0,874.0 L585.0,873.6 L587.0,873.3 L589.0,872.9 L591.0,872.5 L593.0,872.2 L595.0,871.8 L597.0,871.4 L599.0,870.9 L601.0,870.5 L603.0,870.1 L605.0,869.6 L607.0,869.1 L609.0,868.6 L611.0,868.1 L613.0,867.6 L615.0,867.1 L617.0,866.5 L619.0,865.9 L621.0,865.4 L623.0,864.8 L625.0,864.1 L627.0,863.5 L629.0,862.8 L631.0,862.2 L633.0,861.5 L635.0,860.7 L637.0,860.0 L639.0,859.2 L641.0,858.4 L643.0,857.6 L645.0,856.8 L647.0,856.0 L649.0,855.1 L651.0,854.2 L653.0,853.3 L655.0,852.3 L657.0,851.4 L659.0,850.4 L661.0,849.3 L663.0,848.3 L665.0,847.2 L667.0,846.1 L669.0,845.0 L671.0,843.8 L673.0,842.7 L675.0,841.4 L677.0,840.2 L679.0,838.9 L681.0,837.6 L683.0,836.3 L685.0,835.0 L687.0,833.6 L689.0,832.1 L691.0,830.7 L693.0,829.2 L695.0,827.7 L697.0,826.2 L699.0,824.6 L701.0,823.0 L703.0,821.3 L705.0,819.7 L707.0,818.0 L709.0,816.2 L711.0,814.5 L713.0,812.7 L715.0,810.8 L717.0,809.0 L719.0,807.1 L721.0,805.1 L723.0,803.2 L725.0,801.2 L727.0,799.1 L729.0,797.1 L731.0,795.0 L733.0,792.9 L735.0,790.7 L737.0,788.5 L739.0,786.3 L741.0,784.0 L743.0,781.7 L745.0,779.4 L747.0,777.0 L749.0,774.6 L751.0,772.2 L753.0,769.8 L755.0,767.3 L757.0,764.8 L759.0,762.2 L761.0,759.7 L763.0,757.1 L765.0,754.4 L767.0,751.8 L769.0,749.1 L771.0,746.4 L773.0,743.7 L775.0,740.9 L777.0,738.1 L779.0,735.3 L781.0,732.5 L783.0,729.6 L785.0,726.8 L787.0,723.9 L789.0,721.0 L791.0,718.1 L793.0,715.1 L795.0,712.2 L797.0,709.2 L799.0,706.3 L801.0,703.3 L803.0,700.3 L805.0,697.3 L807.0,694.3 L809.0,691.3 L811.0,688.3 L813.0,685.3 L815.0,682.4 L817.0,679.4 L819.0,676.4 L821.0,673.4 L823.0,670.5 L825.0,667.6 L827.0,664.6 L829.0,661.7 L831.0,658.9 L833.0,656.0 L835.0,653.2 L837.0,650.4 L839.0,647.6 L841.0,644.9 L843.0,642.1 L845.0,639.5 L847.0,636.8 L849.0,634.2 L851.0,631.7 L853.0,629.1 L855.0,626.7 L857.0,624.2 L859.0,621.8 L861.0,619.5 L863.0,617.2 L865.0,615.0 L867.0,612.8 L869.0,610.6 L871.0,608.6 L873.0,606.5 L875.0,604.5 L877.0,602.6 L879.0,600.8 L881.0,598.9 L883.0,597.2 L885.0,595.5 L887.0,593.9 L889.0,592.3 L891.0,590.8 L893.0,589.3 L895.0,588.0 L897.0,586.7 L899.0,585.4 L901.0,584.2 L903.0,583.1 L905.0,582.1 L907.0,581.1 L909.0,580.2 L911.0,579.3 L913.0,578.6 L915.0,577.9 L917.0,577.3 L919.0,576.8 L921.0,576.3 L923.0,575.9 L925.0,575.7 L927.0,575.4 L929.0,575.3 L931.0,575.3 L933.0,575.3 L935.0,575.5 L937.0,575.7 L939.0,576.1 L941.0,576.5 L943.0,577.0 L945.0,577.6 L947.0,578.3 L949.0,579.1 L951.0,580.0 L953.0,581.0 L955.0,582.1 L957.0,583.3 L959.0,584.6 L961.0,586.0 L963.0,587.5 L965.0,589.1 L967.0,590.7 L969.0,592.5 L971.0,594.4 L973.0,596.4 L975.0,598.5 L977.0,600.7 L979.0,603.0 L981.0,605.3 L983.0,607.8 L985.0,610.3 L987.0,613.0 L989.0,615.7 L991.0,618.5 L993.0,621.3 L995.0,624.3 L997.0,627.3 L999.0,630.4 L1001.0,633.6 L1003.0,636.9 L1005.0,640.2 L1007.0,643.5 L1009.0,646.9 L1011.0,650.4 L1013.0,653.9 L1015.0,657.5 L1017.0,661.1 L1019.0,664.7 L1021.0,668.4 L1023.0,672.1 L1025.0,675.9 L1027.0,679.7 L1029.0,683.5 L1031.0,687.3 L1033.0,691.1 L1035.0,694.9 L1037.0,698.8 L1039.0,702.6 L1041.0,706.5 L1043.0,710.3 L1045.0,714.1 L1047.0,718.0 L1049.0,721.8 L1051.0,725.6 L1053.0,729.4 L1055.0,733.1 L1057.0,736.9 L1059.0,740.6 L1061.0,744.2 L1063.0,747.9 L1065.0,751.5 L1067.0,755.1 L1069.0,758.6 L1071.0,762.1 L1073.0,765.6 L1075.0,769.0 L1077.0,772.3 L1079.0,775.6 L1081.0,778.9 L1083.0,782.1 L1085.0,785.3 L1087.0,788.4 L1089.0,791.4 L1091.0,794.4 L1093.0,797.3 L1095.0,800.2 L1097.0,803.0 L1099.0,805.8 L1101.0,808.5 L1103.0,811.1 L1105.0,813.7 L1107.0,816.2 L1109.0,818.7 L1111.0,821.1 L1113.0,823.4 L1115.0,825.7 L1117.0,827.9 L1119.0,830.0 L1121.0,832.1 L1123.0,834.2 L1125.0,836.1 L1127.0,838.1 L1129.0,839.9 L1131.0,841.7 L1133.0,843.5 L1135.0,845.2 L1137.0,846.8 L1139.0,848.4 L1141.0,849.9 L1143.0,851.4 L1145.0,852.8 L1147.0,854.2 L1149.0,855.5 L1151.0,856.8 L1153.0,858.0 L1155.0,859.2 L1157.0,860.4 L1159.0,861.5 L1161.0,862.5 L1163.0,863.5 L1165.0,864.5 L1167.0,865.5 L1169.0,866.4 L1171.0,867.2 L1173.0,868.1 L1175.0,868.9 L1177.0,869.6 L1179.0,870.4 L1181.0,871.1 L1183.0,871.7 L1185.0,872.4 L1187.0,873.0 L1189.0,873.6 L1191.0,874.1 L1193.0,874.7 L1195.0,875.2 L1197.0,875.7 L1199.0,876.2 L1201.0,876.6 L1203.0,877.0 L1205.0,877.4 L1207.0,877.8 L1209.0,878.2 L1211.0,878.6 L1213.0,878.9 L1215.0,879.2 L1217.0,879.5 L1219.0,879.8 L1221.0,880.1 L1223.0,880.4 L1225.0,880.7 L1227.0,880.9 L1229.0,881.1 L1231.0,881.4 L1233.0,881.6 L1235.0,881.8 L1237.0,882.0 L1239.0,882.2 L1241.0,882.3 L1243.0,882.5 L1245.0,882.7 L1247.0,882.8 L1249.0,883.0 L1251.0,883.1 L1253.0,883.3 L1255.0,883.4 L1257.0,883.5 L1259.0,883.7 L1261.0,883.8 L1263.0,883.9 L1265.0,884.0 L1267.0,884.1 L1269.0,884.2 L1271.0,884.3 L1273.0,884.4 L1275.0,884.5 L1277.0,884.6 L1279.0,884.7 L1281.0,884.7 L1283.0,884.8 L1285.0,884.9 L1287.0,885.0 L1289.0,885.1 L1291.0,885.1 L1293.0,885.2 L1295.0,885.3 L1297.0,885.3 L1299.0,885.4 L1301.0,885.5 L1303.0,885.5 L1305.0,885.6 L1307.0,885.6 L1309.0,885.7 L1311.0,885.7 L1313.0,885.8 L1315.0,885.9 L1317.0,885.9 L1319.0,886.0 L1321.0,886.0 L1323.0,886.1 L1325.0,886.1 L1327.0,886.2 L1329.0,886.2 L1331.0,886.3 L1333.0,886.3 L1335.0,886.3 L1337.0,886.4 L1339.0,886.4 L1341.0,886.5" stroke="#0000ff" stroke-width="7.8" stroke-linejoin="round" fill="none"/>
<path d="M140.0,1357.3 L144.0,1357.3 L148.0,1357.3 L152.0,1357.3 L156.0,1357.3 L160.0,1357.3 L164.0,1357.3 L168.0,1357.3 L172.0,1357.3 L176.0,1357.3 L180.0,1357.3 L184.0,1357.3 L188.0,1357.3 L192.0,1357.3 L196.0,1357.3 L200.0,1357.3 L204.0,1357.3 L208.0,1357.3 L212.0,1357.3 L216.0,1357.3 L220.0,1357.3 L224.0,1357.3 L228.0,1357.3 L232.0,1357.3 L236.0,1357.3 L240.0,1357.3 L244.0,1357.3 L248.0,1357.3 L252.0,1357.3 L256.0,1357.3 L260.0,1357.3 L264.0,1357.3 L268.0,1357.3 L272.0,1357.3 L276.0,1357.3 L280.0,1357.3 L284.0,1357.3 L288.0,1357.3 L292.0,1357.3 L296.0,1357.3 L300.0,1357.3 L304.0,1357.3 L308.0,1357.3 L312.0,1357.3 L316.0,1357.3 L320.0,1357.3 L324.0,1357.3 L328.0,1357.3 L332.0,1357.3 L336.0,1357.3 L340.0,1357.3 L344.0,1357.3 L348.0,1357.3 L352.0,1357.3 L356.0,1357.3 L360.0,1357.3 L364.0,1357.3 L368.0,1357.3 L372.0,1357.3 L376.0,1357.3 L380.0,1357.3 L384.0,1357.3 L388.0,1357.3 L392.0,1357.3 L396.0,1357.3 L400.0,1357.3 L404.0,1357.3 L408.0,1357.3 L412.0,1357.3 L416.0,1357.3 L420.0,1357.3 L424.0,1357.3 L428.0,1357.3 L432.0,1357.3 L436.0,1357.3 L440.0,1357.3 L444.0,1357.3 L448.0,1357.3 L452.0,1357.3 L456.0,1357.3 L460.0,1357.3 L464.0,1357.3 L468.0,1357.3 L472.0,1357.3 L476.0,1357.3 L480.0,1357.3 L484.0,1357.3 L488.0,1357.3 L492.0,1357.3 L496.0,1357.3 L500.0,1357.3 L504.0,1357.3 L508.0,1357.3 L512.0,1357.3 L516.0,1357.3 L520.0,1357.3 L524.0,1357.3 L528.0,1357.3 L532.0,1357.3 L536.0,1357.3 L540.0,1357.3 L544.0,1357.4 L548.0,1357.4 L552.0,1357.4 L556.0,1357.4 L560.0,1357.4 L564.0,1357.4 L568.0,1357.4 L572.0,1357.4 L576.0,1357.4 L580.0,1357.4 L584.0,1357.4 L588.0,1357.4 L592.0,1357.4 L596.0,1357.4 L600.0,1357.4 L604.0,1357.4 L608.0,1357.4 L612.0,1357.4 L616.0,1357.4 L620.0,1357.4 L624.0,1357.4 L628.0,1357.4 L632.0,1357.4 L636.0,1357.4 L640.0,1357.4 L644.0,1357.4 L648.0,1357.4 L652.0,1357.4 L656.0,1357.4 L660.0,1357.4 L664.0,1357.4 L668.0,1357.4 L672.0,1357.4 L676.0,1357.4 L680.0,1357.4 L684.0,1357.5 L688.0,1357.5 L692.0,1357.5 L696.0,1357.5 L700.0,1357.5 L704.0,1357.5 L708.0,1357.5 L712.0,1357.5 L716.0,1357.5 L720.0,1357.5 L724.0,1357.5 L728.0,1357.5 L732.0,1357.6 L736.0,1357.6 L740.0,1357.6 L744.0,1357.6 L748.0,1357.6 L752.0,1357.6 L756.0,1357.6 L760.0,1357.6 L764.0,1357.7 L768.0,1357.7 L772.0,1357.7 L776.0,1357.7 L780.0,1357.7 L784.0,1357.8 L788.0,1357.8 L792.0,1357.8 L796.0,1357.8 L800.0,1357.8 L804.0,1357.9 L808.0,1357.9 L812.0,1357.9 L816.0,1357.9 L820.0,1358.0 L824.0,1358.0 L828.0,1358.0 L832.0,1358.0 L836.0,1358.1 L840.0,1358.1 L844.0,1358.1 L848.0,1358.2 L852.0,1358.2 L856.0,1358.2 L860.0,1358.2 L864.0,1358.3 L868.0,1358.3 L872.0,1358.3 L876.0,1358.4 L880.0,1358.4 L884.0,1358.4 L888.0,1358.5 L892.0,1358.5 L896.0,1358.5 L900.0,1358.6 L904.0,1358.6 L908.0,1358.7 L912.0,1358.7 L916.0,1358.7 L920.0,1358.8 L924.0,1358.8 L928.0,1358.8 L932.0,1358.9 L936.0,1358.9 L940.0,1358.9 L944.0,1359.0 L948.0,1359.0 L952.0,1359.0 L956.0,1359.1 L960.0,1359.1 L964.0,1359.1 L968.0,1359.2 L972.0,1359.2 L976.0,1359.2 L980.0,1359.3 L984.0,1359.3 L988.0,1359.3 L992.0,1359.4 L996.0,1359.4 L1000.0,1359.4 L1004.0,1359.5 L1008.0,1359.5 L1012.0,1359.5 L1016.0,1359.5 L1020.0,1359.6 L1024.0,1359.6 L1028.0,1359.6 L1032.0,1359.6 L1036.0,1359.6 L1040.0,1359.7 L1044.0,1359.7 L1048.0,1359.7 L1052.0,1359.7 L1056.0,1359.7 L1060.0,1359.8 L1064.0,1359.8 L1068.0,1359.8 L1072.0,1359.8 L1076.0,1359.8 L1080.0,1359.8 L1084.0,1359.8 L1088.0,1359.8 L1092.0,1359.9 L1096.0,1359.9 L1100.0,1359.9 L1104.0,1359.9 L1108.0,1359.9 L1112.0,1359.9 L1116.0,1359.9 L1120.0,1359.9 L1124.0,1359.9 L1128.0,1359.9 L1132.0,1359.9 L1136.0,1359.9 L1140.0,1359.9 L1144.0,1359.9 L1148.0,1359.9 L1152.0,1359.9 L1156.0,1359.9 L1160.0,1359.9 L1164.0,1359.9 L1168.0,1360.0 L1172.0,1360.0 L1176.0,1360.0 L1180.0,1360.0 L1184.0,1360.0 L1188.0,1360.0 L1192.0,1360.0 L1196.0,1360.0 L1200.0,1360.0 L1204.0,1360.0 L1208.0,1360.0 L1212.0,1360.0 L1216.0,1360.0 L1220.0,1360.0 L1224.0,1360.0 L1228.0,1360.0 L1232.0,1360.0 L1236.0,1360.0 L1240.0,1360.0 L1244.0,1360.0 L1248.0,1360.0 L1252.0,1360.0 L1256.0,1360.0 L1260.0,1360.0 L1264.0,1360.0 L1268.0,1360.0 L1272.0,1360.0 L1276.0,1360.0 L1280.0,1360.0 L1284.0,1360.0 L1288.0,1360.0 L1292.0,1360.0 L1296.0,1360.0 L1300.0,1360.0 L1304.0,1360.0 L1308.0,1360.0 L1312.0,1360.0 L1316.0,1360.0 L1320.0,1360.0 L1324.0,1360.0 L1328.0,1360.0 L1332.0,1360.0 L1336.0,1360.0 L1340.0,1360.0 L1344.0,1360.0 L1348.0,1360.0 L1352.0,1360.0 L1356.0,1360.0 L1360.0,1360.0" stroke="#ff0000" stroke-width="4.6" stroke-linecap="round" stroke-linejoin="round" fill="none"/>
<path d="M830.0,1107.0 L832.0,1105.2 L834.0,1103.4 L836.0,1101.7 L838.0,1100.1 L840.0,1098.5 L842.0,1097.0 L844.0,1095.6 L846.0,1094.3 L848.0,1093.1 L850.0,1091.9 L852.0,1090.8 L854.0,1089.8 L856.0,1088.9 L858.0,1088.1 L860.0,1087.4 L862.0,1086.8 L864.0,1086.2 L866.0,1085.8 L868.0,1085.4 L870.0,1085.2 L872.0,1085.0 L874.0,1084.9 L876.0,1084.9 L878.0,1085.0 L880.0,1085.2 L882.0,1085.5 L884.0,1085.9 L886.0,1086.4 L888.0,1086.9 L890.0,1087.6 L892.0,1088.3 L894.0,1089.1 L896.0,1090.1 L898.0,1091.1 L900.0,1092.2 L902.0,1093.3 L904.0,1094.6 L906.0,1095.9 L908.0,1097.4 L910.0,1098.9 L912.0,1100.5 L914.0,1102.1 L916.0,1103.8 L918.0,1105.7 L920.0,1107.5 L922.0,1109.5 L924.0,1111.5 L926.0,1113.6 L928.0,1115.7 L930.0,1117.9 L932.0,1120.2 L934.0,1122.5 L936.0,1124.9 L938.0,1127.3 L940.0,1129.8 L942.0,1132.3 L944.0,1134.9 L946.0,1137.5 L948.0,1140.1 L950.0,1142.8 L952.0,1145.6 L954.0,1148.3 L956.0,1151.1 L958.0,1154.0 L960.0,1156.8 L962.0,1159.7 L964.0,1162.6 L966.0,1165.5 L968.0,1168.5 L970.0,1171.5 L972.0,1174.4 L974.0,1177.4 L976.0,1180.4 L978.0,1183.4 L980.0,1186.4 L982.0,1189.5 L984.0,1192.5 L986.0,1195.5 L988.0,1198.5 L990.0,1201.5 L992.0,1204.5 L994.0,1207.5 L996.0,1210.5 L998.0,1213.5 L1000.0,1216.4 L1002.0,1219.4 L1004.0,1222.3 L1006.0,1225.2 L1008.0,1228.1 L1010.0,1231.0 L1012.0,1233.8 L1014.0,1236.7 L1016.0,1239.5 L1018.0,1242.2 L1020.0,1245.0 L1022.0,1247.7 L1024.0,1250.4 L1026.0,1253.1 L1028.0,1255.7 L1030.0,1258.3 L1032.0,1260.8 L1034.0,1263.4 L1036.0,1265.8 L1038.0,1268.3 L1040.0,1270.7 L1042.0,1273.1 L1044.0,1275.4 L1046.0,1277.7 L1048.0,1280.0 L1050.0,1282.2 L1052.0,1284.4 L1054.0,1286.6 L1056.0,1288.7 L1058.0,1290.8 L1060.0,1292.8 L1062.0,1294.8 L1064.0,1296.7 L1066.0,1298.7 L1068.0,1300.5 L1070.0,1302.4 L1072.0,1304.1 L1074.0,1305.9 L1076.0,1307.6 L1078.0,1309.3 L1080.0,1310.9 L1082.0,1312.5 L1084.0,1314.1 L1086.0,1315.6 L1088.0,1317.1 L1090.0,1318.5 L1092.0,1319.9 L1094.0,1321.3 L1096.0,1322.6 L1098.0,1323.9 L1100.0,1325.2 L1102.0,1326.4 L1104.0,1327.6 L1106.0,1328.7 L1108.0,1329.8 L1110.0,1330.9 L1112.0,1332.0 L1114.0,1333.0 L1116.0,1334.0 L1118.0,1335.0 L1120.0,1335.9 L1122.0,1336.8 L1124.0,1337.7 L1126.0,1338.5 L1128.0,1339.3 L1130.0,1340.1 L1132.0,1340.9 L1134.0,1341.6 L1136.0,1342.4 L1138.0,1343.0 L1140.0,1343.7 L1142.0,1344.4 L1144.0,1345.0 L1146.0,1345.6 L1148.0,1346.2 L1150.0,1346.7 L1152.0,1347.2 L1154.0,1347.8 L1156.0,1348.2 L1158.0,1348.7 L1160.0,1349.2 L1162.0,1349.6 L1164.0,1350.0 L1166.0,1350.5 L1168.0,1350.8 L1170.0,1351.2 L1172.0,1351.6 L1174.0,1351.9 L1176.0,1352.3 L1178.0,1352.6 L1180.0,1352.9 L1182.0,1353.2 L1184.0,1353.5 L1186.0,1353.7 L1188.0,1354.0 L1190.0,1354.2 L1192.0,1354.5 L1194.0,1354.7 L1196.0,1354.9 L1198.0,1355.1 L1200.0,1355.3 L1202.0,1355.5 L1204.0,1355.7 L1206.0,1355.8 L1208.0,1356.0 L1210.0,1356.2 L1212.0,1356.3 L1214.0,1356.5 L1216.0,1356.6 L1218.0,1356.7 L1220.0,1356.8 L1222.0,1357.0 L1224.0,1357.1 L1226.0,1357.2 L1228.0,1357.3 L1230.0,1357.4 L1232.0,1357.5 L1234.0,1357.6 L1236.0,1357.7 L1238.0,1357.7 L1240.0,1357.8 L1242.0,1357.9 L1244.0,1358.0 L1246.0,1358.0 L1248.0,1358.1 L1250.0,1358.1 L1252.0,1358.2 L1254.0,1358.3 L1256.0,1358.3 L1258.0,1358.4 L1260.0,1358.4 L1262.0,1358.4" stroke="#ff0000" stroke-width="4.5" stroke-dasharray="16 25.5" stroke-linecap="round" fill="none"/>
<path d="M772.0,1353.2 L774.0,1353.0 L776.0,1352.7 L778.0,1352.4 L780.0,1352.1 L782.0,1351.8 L784.0,1351.4 L786.0,1351.1 L788.0,1350.7 L790.0,1350.3 L792.0,1349.9 L794.0,1349.4 L796.0,1348.9 L798.0,1348.4 L800.0,1347.9 L802.0,1347.4 L804.0,1346.8 L806.0,1346.2 L808.0,1345.5 L810.0,1344.9 L812.0,1344.2 L814.0,1343.4 L816.0,1342.7 L818.0,1341.9 L820.0,1341.0 L822.0,1340.2 L824.0,1339.3 L826.0,1338.3 L828.0,1337.3 L830.0,1336.3 L832.0,1335.3 L834.0,1334.2 L836.0,1333.0 L838.0,1331.8 L840.0,1330.6 L842.0,1329.3 L844.0,1328.0 L846.0,1326.7 L848.0,1325.3 L850.0,1323.8 L852.0,1322.4 L854.0,1320.8 L856.0,1319.3 L858.0,1317.7 L860.0,1316.0 L862.0,1314.3 L864.0,1312.6 L866.0,1310.8 L868.0,1309.0 L870.0,1307.2 L872.0,1305.3 L874.0,1303.4 L876.0,1301.4 L878.0,1299.4 L880.0,1297.4 L882.0,1295.4 L884.0,1293.3 L886.0,1291.2 L888.0,1289.1 L890.0,1286.9 L892.0,1284.8 L894.0,1282.6 L896.0,1280.4 L898.0,1278.2 L900.0,1276.0 L902.0,1273.7 L904.0,1271.5 L906.0,1269.3 L908.0,1267.1 L910.0,1264.8 L912.0,1262.6 L914.0,1260.5 L916.0,1258.3 L918.0,1256.1 L920.0,1254.0 L922.0,1251.9 L924.0,1249.8 L926.0,1247.8 L928.0,1245.8 L930.0,1243.8 L932.0,1241.9 L934.0,1240.0 L936.0,1238.2 L938.0,1236.4 L940.0,1234.7 L942.0,1233.1 L944.0,1231.5 L946.0,1230.0 L948.0,1228.5 L950.0,1227.2 L952.0,1225.9 L954.0,1224.7 L956.0,1223.6 L958.0,1222.5 L960.0,1221.6 L962.0,1220.7 L964.0,1220.0 L966.0,1219.3 L968.0,1218.7 L970.0,1218.3 L972.0,1217.9 L974.0,1217.6 L976.0,1217.4 L978.0,1217.3 L980.0,1217.4 L982.0,1217.5 L984.0,1217.7 L986.0,1218.0 L988.0,1218.4 L990.0,1219.0 L992.0,1219.6 L994.0,1220.3 L996.0,1221.1 L998.0,1222.0 L1000.0,1223.0 L1002.0,1224.1 L1004.0,1225.2 L1006.0,1226.5 L1008.0,1227.8 L1010.0,1229.2 L1012.0,1230.7 L1014.0,1232.2 L1016.0,1233.8 L1018.0,1235.5 L1020.0,1237.2 L1022.0,1239.0 L1024.0,1240.9 L1026.0,1242.8 L1028.0,1244.7 L1030.0,1246.7 L1032.0,1248.8 L1034.0,1250.9 L1036.0,1253.0 L1038.0,1255.1 L1040.0,1257.3 L1042.0,1259.4 L1044.0,1261.7 L1046.0,1263.9 L1048.0,1266.1 L1050.0,1268.3 L1052.0,1270.6 L1054.0,1272.8 L1056.0,1275.1 L1058.0,1277.3 L1060.0,1279.6 L1062.0,1281.8 L1064.0,1284.0 L1066.0,1286.2 L1068.0,1288.4 L1070.0,1290.6 L1072.0,1292.7 L1074.0,1294.9 L1076.0,1297.0 L1078.0,1299.0 L1080.0,1301.1 L1082.0,1303.1 L1084.0,1305.0 L1086.0,1307.0 L1088.0,1308.9 L1090.0,1310.7 L1092.0,1312.6 L1094.0,1314.3 L1096.0,1316.1 L1098.0,1317.8 L1100.0,1319.5 L1102.0,1321.1 L1104.0,1322.7 L1106.0,1324.2 L1108.0,1325.7 L1110.0,1327.2 L1112.0,1328.6 L1114.0,1329.9 L1116.0,1331.3 L1118.0,1332.5 L1120.0,1333.8 L1122.0,1335.0 L1124.0,1336.1 L1126.0,1337.2 L1128.0,1338.3 L1130.0,1339.4 L1132.0,1340.3 L1134.0,1341.3 L1136.0,1342.2 L1138.0,1343.1 L1140.0,1343.9 L1142.0,1344.8 L1144.0,1345.5 L1146.0,1346.3 L1148.0,1347.0 L1150.0,1347.7 L1152.0,1348.3 L1154.0,1348.9 L1156.0,1349.5 L1158.0,1350.1 L1160.0,1350.6 L1162.0,1351.1 L1164.0,1351.6 L1166.0,1352.1 L1168.0,1352.5 L1170.0,1352.9 L1172.0,1353.3 L1174.0,1353.7 L1176.0,1354.0 L1178.0,1354.3 L1180.0,1354.7 L1182.0,1355.0 L1184.0,1355.2 L1186.0,1355.5 L1188.0,1355.7 L1190.0,1356.0 L1192.0,1356.2 L1194.0,1356.4 L1196.0,1356.6 L1198.0,1356.8 L1200.0,1357.0 L1202.0,1357.1 L1204.0,1357.3 L1206.0,1357.4 L1208.0,1357.5 L1210.0,1357.7 L1212.0,1357.8 L1214.0,1357.9 L1216.0,1358.0 L1218.0,1358.1 L1220.0,1358.2 L1222.0,1358.3 L1224.0,1358.3 L1226.0,1358.4" stroke="#ff0000" stroke-width="4.5" stroke-dasharray="16 25.5" stroke-linecap="round" fill="none"/>
<path d="M601.0,1339.2 L603.0,1338.7 L605.0,1338.2 L607.0,1337.7 L609.0,1337.2 L611.0,1336.6 L613.0,1336.1 L615.0,1335.5 L617.1,1334.9 L619.1,1334.3 L621.1,1333.7 L623.1,1333.0 L625.1,1332.3 L627.1,1331.7 L629.1,1330.9 L631.2,1330.2 L633.2,1329.4 L635.2,1328.7 L637.2,1327.9 L639.3,1327.0 L641.3,1326.2 L643.3,1325.3 L645.4,1324.4 L647.4,1323.5 L649.5,1322.5 L651.5,1321.5 L653.6,1320.5 L655.6,1319.4 L657.7,1318.4 L659.7,1317.2 L661.8,1316.1 L663.9,1314.9 L665.9,1313.7 L668.0,1312.5 L670.1,1311.2 L672.2,1309.9 L674.3,1308.5 L676.4,1307.2 L678.5,1305.7 L680.6,1304.3 L682.7,1302.8 L684.8,1301.3 L686.9,1299.7 L689.0,1298.1 L691.1,1296.4 L693.3,1294.7 L695.4,1293.0 L697.5,1291.2 L699.7,1289.4 L701.8,1287.6 L704.0,1285.7 L706.1,1283.7 L708.3,1281.7 L710.4,1279.7 L712.6,1277.6 L714.7,1275.5 L716.9,1273.3 L719.0,1271.1 L721.2,1268.9 L723.4,1266.6 L725.5,1264.2 L727.7,1261.8 L729.8,1259.4 L732.0,1256.9 L734.1,1254.3 L736.3,1251.8 L738.4,1249.1 L740.6,1246.5 L742.7,1243.7 L744.8,1241.0 L746.9,1238.2 L749.1,1235.3 L751.2,1232.4 L753.3,1229.4 L755.3,1226.4 L757.4,1223.4 L759.5,1220.3 L761.5,1217.2 L763.6,1214.0 L765.6,1210.8 L767.6,1207.6 L769.6,1204.3 L771.6,1200.9 L773.6,1197.6 L775.6,1194.2 L777.5,1190.8 L779.4,1187.3 L781.3,1183.8 L783.2,1180.3 L785.1,1176.7 L787.0,1173.1 L788.9,1169.5 L790.7,1165.9 L792.5,1162.3 L794.3,1158.6 L796.1,1155.0 L797.9,1151.3 L799.7,1147.6 L801.5,1143.9 L803.3,1140.2 L805.0,1136.5 L806.8,1132.8 L808.5,1129.1 L810.2,1125.5 L812.0,1121.8 L813.7,1118.2 L815.5,1114.5 L817.2,1110.9 L819.0,1107.4 L820.7,1103.8 L822.5,1100.3 L824.3,1096.8 L826.0,1093.4 L827.8,1090.0 L829.6,1086.6 L831.4,1083.3 L833.3,1080.1 L835.1,1076.9 L837.0,1073.8" stroke="#ff0000" stroke-width="5.5" stroke-linejoin="round" fill="none"/>
<path d="M313.0,1355.9 L315.0,1355.8 L317.0,1355.8 L319.0,1355.8 L321.0,1355.7 L323.0,1355.7 L325.0,1355.7 L327.0,1355.7 L329.0,1355.6 L331.0,1355.6 L333.0,1355.6 L335.0,1355.5 L337.0,1355.5 L339.0,1355.5 L341.0,1355.4 L343.0,1355.4 L345.0,1355.4 L347.0,1355.4 L349.0,1355.3 L351.0,1355.3 L353.0,1355.3 L355.0,1355.2 L357.0,1355.2 L359.0,1355.2 L361.0,1355.1 L363.0,1355.1 L365.0,1355.0 L367.0,1355.0 L369.0,1355.0 L371.0,1354.9 L373.0,1354.9 L375.0,1354.9 L377.0,1354.8 L379.0,1354.8 L381.0,1354.7 L383.0,1354.7 L385.0,1354.7 L387.0,1354.6 L389.0,1354.6 L391.0,1354.5 L393.0,1354.5 L395.0,1354.5 L397.0,1354.4 L399.0,1354.4 L401.0,1354.3 L403.0,1354.3 L405.0,1354.2 L407.0,1354.2 L409.0,1354.1 L411.0,1354.1 L413.0,1354.0 L415.0,1354.0 L417.0,1353.9 L419.0,1353.9 L421.0,1353.8 L423.0,1353.8 L425.0,1353.7 L427.0,1353.7 L429.0,1353.6 L431.0,1353.6 L433.0,1353.5 L435.0,1353.5 L437.0,1353.4 L439.0,1353.4 L441.0,1353.3 L443.0,1353.2 L445.0,1353.2 L447.0,1353.1 L449.0,1353.1 L451.0,1353.0 L453.0,1352.9 L455.0,1352.9 L457.0,1352.8 L459.0,1352.7 L461.0,1352.7 L463.0,1352.6 L465.0,1352.5 L467.0,1352.4 L469.0,1352.4 L471.0,1352.3 L473.0,1352.2 L475.0,1352.1 L477.0,1352.1 L479.0,1352.0 L481.0,1351.9 L483.0,1351.8 L485.0,1351.7 L487.0,1351.6 L489.0,1351.5 L491.0,1351.5 L493.0,1351.4 L495.0,1351.3 L497.0,1351.2 L499.0,1351.1 L501.0,1351.0 L503.0,1350.9 L505.0,1350.8 L507.0,1350.6 L509.0,1350.5 L511.0,1350.4 L513.0,1350.3 L515.0,1350.2 L517.0,1350.0 L519.0,1349.9 L521.0,1349.8 L523.0,1349.7 L525.0,1349.5 L527.0,1349.4 L529.0,1349.2 L531.0,1349.1 L533.0,1348.9 L535.0,1348.8 L537.0,1348.6 L539.0,1348.4 L541.0,1348.2 L543.0,1348.1 L545.0,1347.9 L547.0,1347.7 L549.0,1347.5 L551.0,1347.3 L553.0,1347.1 L555.0,1346.8 L557.0,1346.6 L559.0,1346.4 L561.0,1346.1 L563.0,1345.9 L565.0,1345.6 L567.0,1345.4 L569.0,1345.1 L571.0,1344.8 L573.0,1344.5 L575.0,1344.2 L577.0,1343.9 L579.0,1343.6 L581.0,1343.2 L583.0,1342.9 L585.0,1342.5 L587.0,1342.2 L589.0,1341.8 L591.0,1341.4 L593.0,1341.0 L595.0,1340.5 L597.0,1340.1 L599.0,1339.6 L601.0,1339.2 L603.0,1338.7 L605.0,1338.2 L607.0,1337.6 L609.0,1337.1 L611.0,1336.5 L613.0,1335.9 L615.0,1335.3 L617.0,1334.7 L619.0,1334.1 L621.0,1333.4 L623.0,1332.7 L625.0,1332.0 L627.0,1331.3 L629.0,1330.6 L631.0,1329.8 L633.0,1329.0 L635.0,1328.1 L637.0,1327.3 L639.0,1326.4 L641.0,1325.5 L643.0,1324.6 L645.0,1323.6 L647.0,1322.6 L649.0,1321.6 L651.0,1320.5 L653.0,1319.5 L655.0,1318.3 L657.0,1317.2 L659.0,1316.0 L661.0,1314.8 L663.0,1313.5 L665.0,1312.3 L667.0,1310.9 L669.0,1309.6 L671.0,1308.2 L673.0,1306.8 L675.0,1305.3 L677.0,1303.8 L679.0,1302.3 L681.0,1300.7 L683.0,1299.1 L685.0,1297.4 L687.0,1295.7 L689.0,1294.0 L691.0,1292.2 L693.0,1290.4 L695.0,1288.5 L697.0,1286.6 L699.0,1284.7 L701.0,1282.7 L703.0,1280.7 L705.0,1278.6 L707.0,1276.5 L709.0,1274.3 L711.0,1272.1 L713.0,1269.9 L715.0,1267.6 L717.0,1265.3 L719.0,1262.9 L721.0,1260.5 L723.0,1258.0 L725.0,1255.5 L727.0,1253.0 L729.0,1250.4 L731.0,1247.8 L733.0,1245.1 L735.0,1242.4 L737.0,1239.6 L739.0,1236.8 L741.0,1234.0 L743.0,1231.1 L745.0,1228.2 L747.0,1225.2 L749.0,1222.2 L751.0,1219.2 L753.0,1216.1 L755.0,1213.0 L757.0,1209.9 L759.0,1206.7 L761.0,1203.5 L763.0,1200.2 L765.0,1196.9 L767.0,1193.6 L769.0,1190.3 L771.0,1186.9 L773.0,1183.5 L775.0,1180.1 L777.0,1176.6 L779.0,1173.2 L781.0,1169.7 L783.0,1166.2 L785.0,1162.7 L787.0,1159.2 L789.0,1155.6 L791.0,1152.1 L793.0,1148.5 L795.0,1144.9 L797.0,1141.4 L799.0,1137.8 L801.0,1134.3 L803.0,1130.7 L805.0,1127.2 L807.0,1123.6 L809.0,1120.1 L811.0,1116.6 L813.0,1113.1 L815.0,1109.7 L817.0,1106.2 L819.0,1102.8 L821.0,1099.4 L823.0,1096.1 L825.0,1092.8 L827.0,1089.5 L829.0,1086.2 L831.0,1083.1 L833.0,1079.9 L835.0,1076.8 L837.0,1073.7 L839.0,1070.7 L841.0,1067.8 L843.0,1064.9 L845.0,1062.0 L847.0,1059.2 L849.0,1056.5 L851.0,1053.8 L853.0,1051.2 L855.0,1048.7 L857.0,1046.2 L859.0,1043.7 L861.0,1041.3 L863.0,1039.0 L865.0,1036.8 L867.0,1034.6 L869.0,1032.5 L871.0,1030.4 L873.0,1028.4 L875.0,1026.5 L877.0,1024.6 L879.0,1022.8 L881.0,1021.1 L883.0,1019.4 L885.0,1017.8 L887.0,1016.3 L889.0,1014.8 L891.0,1013.4 L893.0,1012.1 L895.0,1010.8 L897.0,1009.6 L899.0,1008.5 L901.0,1007.5 L903.0,1006.6 L905.0,1005.7 L907.0,1004.9 L909.0,1004.2 L911.0,1003.5 L913.0,1003.0 L915.0,1002.5 L917.0,1002.2 L919.0,1001.9 L921.0,1001.7 L923.0,1001.6 L925.0,1001.7 L927.0,1001.8 L929.0,1002.0 L931.0,1002.3 L933.0,1002.7 L935.0,1003.2 L937.0,1003.9 L939.0,1004.6 L941.0,1005.5 L943.0,1006.4 L945.0,1007.5 L947.0,1008.7 L949.0,1010.0 L951.0,1011.5 L953.0,1013.0 L955.0,1014.7 L957.0,1016.5 L959.0,1018.4 L961.0,1020.4 L963.0,1022.5 L965.0,1024.7 L967.0,1027.1 L969.0,1029.6 L971.0,1032.2 L973.0,1034.8 L975.0,1037.6 L977.0,1040.6 L979.0,1043.6 L981.0,1046.7 L983.0,1049.9 L985.0,1053.2 L987.0,1056.6 L989.0,1060.0 L991.0,1063.6 L993.0,1067.2 L995.0,1071.0 L997.0,1074.7 L999.0,1078.6 L1001.0,1082.5 L1003.0,1086.5 L1005.0,1090.6 L1007.0,1094.7 L1009.0,1098.8 L1011.0,1103.0 L1013.0,1107.2 L1015.0,1111.5 L1017.0,1115.8 L1019.0,1120.1 L1021.0,1124.5 L1023.0,1128.8 L1025.0,1133.2 L1027.0,1137.6 L1029.0,1142.0 L1031.0,1146.4 L1033.0,1150.8 L1035.0,1155.2 L1037.0,1159.6 L1039.0,1164.0 L1041.0,1168.3 L1043.0,1172.7 L1045.0,1177.0 L1047.0,1181.3 L1049.0,1185.6 L1051.0,1189.8 L1053.0,1194.0 L1055.0,1198.2 L1057.0,1202.3 L1059.0,1206.4 L1061.0,1210.4 L1063.0,1214.4 L1065.0,1218.3 L1067.0,1222.2 L1069.0,1226.1 L1071.0,1229.8 L1073.0,1233.6 L1075.0,1237.2 L1077.0,1240.8 L1079.0,1244.4 L1081.0,1247.8 L1083.0,1251.3 L1085.0,1254.6 L1087.0,1257.9 L1089.0,1261.1 L1091.0,1264.3 L1093.0,1267.3 L1095.0,1270.4 L1097.0,1273.3 L1099.0,1276.2 L1101.0,1279.0 L1103.0,1281.7 L1105.0,1284.4 L1107.0,1287.0 L1109.0,1289.5 L1111.0,1292.0 L1113.0,1294.4 L1115.0,1296.7 L1117.0,1299.0 L1119.0,1301.2 L1121.0,1303.3 L1123.0,1305.4 L1125.0,1307.4 L1127.0,1309.4 L1129.0,1311.2 L1131.0,1313.1 L1133.0,1314.8 L1135.0,1316.5 L1137.0,1318.2 L1139.0,1319.8 L1141.0,1321.3 L1143.0,1322.8 L1145.0,1324.2 L1147.0,1325.6 L1149.0,1326.9 L1151.0,1328.2 L1153.0,1329.4 L1155.0,1330.6 L1157.0,1331.7 L1159.0,1332.8 L1161.0,1333.9 L1163.0,1334.9 L1165.0,1335.8 L1167.0,1336.8 L1169.0,1337.7 L1171.0,1338.5 L1173.0,1339.3 L1175.0,1340.1 L1177.0,1340.9 L1179.0,1341.6 L1181.0,1342.3 L1183.0,1342.9 L1185.0,1343.6 L1187.0,1344.2 L1189.0,1344.7 L1191.0,1345.3 L1193.0,1345.8 L1195.0,1346.3 L1197.0,1346.8 L1199.0,1347.3 L1201.0,1347.7 L1203.0,1348.1 L1205.0,1348.5 L1207.0,1348.9 L1209.0,1349.3 L1211.0,1349.6 L1213.0,1350.0 L1215.0,1350.3 L1217.0,1350.6 L1219.0,1350.9 L1221.0,1351.2 L1223.0,1351.4 L1225.0,1351.7 L1227.0,1351.9 L1229.0,1352.2 L1231.0,1352.4 L1233.0,1352.6 L1235.0,1352.8 L1237.0,1353.0 L1239.0,1353.2 L1241.0,1353.4 L1243.0,1353.5 L1245.0,1353.7 L1247.0,1353.9 L1249.0,1354.0 L1251.0,1354.2 L1253.0,1354.3 L1255.0,1354.4 L1257.0,1354.6 L1259.0,1354.7 L1261.0,1354.8 L1263.0,1354.9 L1265.0,1355.0 L1267.0,1355.2 L1269.0,1355.3 L1271.0,1355.4 L1273.0,1355.5 L1275.0,1355.6 L1277.0,1355.6 L1279.0,1355.7 L1281.0,1355.8 L1283.0,1355.9 L1285.0,1356.0 L1287.0,1356.1 L1289.0,1356.1 L1291.0,1356.2 L1293.0,1356.3 L1295.0,1356.4 L1297.0,1356.4 L1299.0,1356.5 L1301.0,1356.6 L1303.0,1356.6 L1305.0,1356.7 L1307.0,1356.8 L1309.0,1356.8 L1311.0,1356.9 L1313.0,1356.9 L1315.0,1357.0 L1317.0,1357.1 L1319.0,1357.1 L1321.0,1357.2 L1323.0,1357.2 L1325.0,1357.3 L1327.0,1357.3 L1329.0,1357.4 L1331.0,1357.4 L1333.0,1357.5 L1335.0,1357.5 L1337.0,1357.6 L1339.0,1357.6 L1341.0,1357.7" stroke="#ff0000" stroke-width="7.8" stroke-linejoin="round" fill="none"/>
<path d="M140.0,1825.2 L144.0,1825.2 L148.0,1825.2 L152.0,1825.2 L156.0,1825.2 L160.0,1825.2 L164.0,1825.2 L168.0,1825.2 L172.0,1825.2 L176.0,1825.2 L180.0,1825.2 L184.0,1825.2 L188.0,1825.2 L192.0,1825.2 L196.0,1825.2 L200.0,1825.2 L204.0,1825.2 L208.0,1825.2 L212.0,1825.2 L216.0,1825.2 L220.0,1825.2 L224.0,1825.2 L228.0,1825.2 L232.0,1825.2 L236.0,1825.2 L240.0,1825.2 L244.0,1825.2 L248.0,1825.2 L252.0,1825.2 L256.0,1825.2 L260.0,1825.2 L264.0,1825.2 L268.0,1825.2 L272.0,1825.2 L276.0,1825.2 L280.0,1825.2 L284.0,1825.2 L288.0,1825.2 L292.0,1825.2 L296.0,1825.2 L300.0,1825.2 L304.0,1825.2 L308.0,1825.2 L312.0,1825.2 L316.0,1825.2 L320.0,1825.2 L324.0,1825.2 L328.0,1825.2 L332.0,1825.2 L336.0,1825.2 L340.0,1825.2 L344.0,1825.2 L348.0,1825.2 L352.0,1825.2 L356.0,1825.2 L360.0,1825.2 L364.0,1825.2 L368.0,1825.2 L372.0,1825.2 L376.0,1825.2 L380.0,1825.2 L384.0,1825.2 L388.0,1825.2 L392.0,1825.2 L396.0,1825.2 L400.0,1825.2 L404.0,1825.2 L408.0,1825.2 L412.0,1825.2 L416.0,1825.2 L420.0,1825.2 L424.0,1825.2 L428.0,1825.2 L432.0,1825.2 L436.0,1825.2 L440.0,1825.2 L444.0,1825.2 L448.0,1825.2 L452.0,1825.2 L456.0,1825.2 L460.0,1825.2 L464.0,1825.2 L468.0,1825.2 L472.0,1825.2 L476.0,1825.2 L480.0,1825.2 L484.0,1825.2 L488.0,1825.2 L492.0,1825.2 L496.0,1825.2 L500.0,1825.2 L504.0,1825.2 L508.0,1825.2 L512.0,1825.2 L516.0,1825.2 L520.0,1825.2 L524.0,1825.2 L528.0,1825.2 L532.0,1825.2 L536.0,1825.2 L540.0,1825.2 L544.0,1825.2 L548.0,1825.2 L552.0,1825.2 L556.0,1825.2 L560.0,1825.2 L564.0,1825.2 L568.0,1825.2 L572.0,1825.3 L576.0,1825.3 L580.0,1825.3 L584.0,1825.3 L588.0,1825.3 L592.0,1825.3 L596.0,1825.3 L600.0,1825.3 L604.0,1825.3 L608.0,1825.3 L612.0,1825.3 L616.0,1825.3 L620.0,1825.3 L624.0,1825.3 L628.0,1825.3 L632.0,1825.3 L636.0,1825.3 L640.0,1825.3 L644.0,1825.3 L648.0,1825.3 L652.0,1825.3 L656.0,1825.3 L660.0,1825.3 L664.0,1825.3 L668.0,1825.3 L672.0,1825.3 L676.0,1825.3 L680.0,1825.3 L684.0,1825.4 L688.0,1825.4 L692.0,1825.4 L696.0,1825.4 L700.0,1825.4 L704.0,1825.4 L708.0,1825.4 L712.0,1825.4 L716.0,1825.4 L720.0,1825.4 L724.0,1825.4 L728.0,1825.5 L732.0,1825.5 L736.0,1825.5 L740.0,1825.5 L744.0,1825.5 L748.0,1825.5 L752.0,1825.5 L756.0,1825.6 L760.0,1825.6 L764.0,1825.6 L768.0,1825.6 L772.0,1825.6 L776.0,1825.7 L780.0,1825.7 L784.0,1825.7 L788.0,1825.7 L792.0,1825.7 L796.0,1825.8 L800.0,1825.8 L804.0,1825.8 L808.0,1825.8 L812.0,1825.9 L816.0,1825.9 L820.0,1825.9 L824.0,1826.0 L828.0,1826.0 L832.0,1826.0 L836.0,1826.1 L840.0,1826.1 L844.0,1826.1 L848.0,1826.2 L852.0,1826.2 L856.0,1826.2 L860.0,1826.3 L864.0,1826.3 L868.0,1826.3 L872.0,1826.4 L876.0,1826.4 L880.0,1826.4 L884.0,1826.5 L888.0,1826.5 L892.0,1826.6 L896.0,1826.6 L900.0,1826.6 L904.0,1826.7 L908.0,1826.7 L912.0,1826.8 L916.0,1826.8 L920.0,1826.9 L924.0,1826.9 L928.0,1826.9 L932.0,1827.0 L936.0,1827.0 L940.0,1827.1 L944.0,1827.1 L948.0,1827.1 L952.0,1827.2 L956.0,1827.2 L960.0,1827.3 L964.0,1827.3 L968.0,1827.3 L972.0,1827.4 L976.0,1827.4 L980.0,1827.5 L984.0,1827.5 L988.0,1827.5 L992.0,1827.6 L996.0,1827.6 L1000.0,1827.6 L1004.0,1827.7 L1008.0,1827.7 L1012.0,1827.7 L1016.0,1827.8 L1020.0,1827.8 L1024.0,1827.8 L1028.0,1827.8 L1032.0,1827.9 L1036.0,1827.9 L1040.0,1827.9 L1044.0,1827.9 L1048.0,1828.0 L1052.0,1828.0 L1056.0,1828.0 L1060.0,1828.0 L1064.0,1828.0 L1068.0,1828.1 L1072.0,1828.1 L1076.0,1828.1 L1080.0,1828.1 L1084.0,1828.1 L1088.0,1828.1 L1092.0,1828.1 L1096.0,1828.2 L1100.0,1828.2 L1104.0,1828.2 L1108.0,1828.2 L1112.0,1828.2 L1116.0,1828.2 L1120.0,1828.2 L1124.0,1828.2 L1128.0,1828.2 L1132.0,1828.2 L1136.0,1828.2 L1140.0,1828.2 L1144.0,1828.2 L1148.0,1828.2 L1152.0,1828.2 L1156.0,1828.2 L1160.0,1828.3 L1164.0,1828.3 L1168.0,1828.3 L1172.0,1828.3 L1176.0,1828.3 L1180.0,1828.3 L1184.0,1828.3 L1188.0,1828.3 L1192.0,1828.3 L1196.0,1828.3 L1200.0,1828.3 L1204.0,1828.3 L1208.0,1828.3 L1212.0,1828.3 L1216.0,1828.3 L1220.0,1828.3 L1224.0,1828.3 L1228.0,1828.3 L1232.0,1828.3 L1236.0,1828.3 L1240.0,1828.3 L1244.0,1828.3 L1248.0,1828.3 L1252.0,1828.3 L1256.0,1828.3 L1260.0,1828.3 L1264.0,1828.3 L1268.0,1828.3 L1272.0,1828.3 L1276.0,1828.3 L1280.0,1828.3 L1284.0,1828.3 L1288.0,1828.3 L1292.0,1828.3 L1296.0,1828.3 L1300.0,1828.3 L1304.0,1828.3 L1308.0,1828.3 L1312.0,1828.3 L1316.0,1828.3 L1320.0,1828.3 L1324.0,1828.3 L1328.0,1828.3 L1332.0,1828.3 L1336.0,1828.3 L1340.0,1828.3 L1344.0,1828.3 L1348.0,1828.3 L1352.0,1828.3 L1356.0,1828.3 L1360.0,1828.3" stroke="#000000" stroke-width="4.6" stroke-linecap="round" stroke-linejoin="round" fill="none"/>
<path d="M834.0,1581.0 L836.0,1578.9 L838.0,1577.0 L840.0,1575.1 L842.0,1573.2 L844.0,1571.4 L846.0,1569.7 L848.0,1568.1 L850.0,1566.5 L852.0,1565.0 L854.0,1563.6 L856.0,1562.3 L858.0,1561.0 L860.0,1559.9 L862.0,1558.8 L864.0,1557.8 L866.0,1556.9 L868.0,1556.0 L870.0,1555.3 L872.0,1554.6 L874.0,1554.1 L876.0,1553.6 L878.0,1553.2 L880.0,1552.9 L882.0,1552.7 L884.0,1552.6 L886.0,1552.6 L888.0,1552.7 L890.0,1552.8 L892.0,1553.1 L894.0,1553.4 L896.0,1553.9 L898.0,1554.4 L900.0,1555.0 L902.0,1555.7 L904.0,1556.5 L906.0,1557.4 L908.0,1558.4 L910.0,1559.4 L912.0,1560.6 L914.0,1561.8 L916.0,1563.1 L918.0,1564.5 L920.0,1565.9 L922.0,1567.5 L924.0,1569.1 L926.0,1570.8 L928.0,1572.5 L930.0,1574.3 L932.0,1576.2 L934.0,1578.2 L936.0,1580.2 L938.0,1582.3 L940.0,1584.4 L942.0,1586.6 L944.0,1588.9 L946.0,1591.2 L948.0,1593.6 L950.0,1596.0 L952.0,1598.4 L954.0,1600.9 L956.0,1603.4 L958.0,1606.0 L960.0,1608.6 L962.0,1611.3 L964.0,1614.0 L966.0,1616.7 L968.0,1619.4 L970.0,1622.2 L972.0,1625.0 L974.0,1627.8 L976.0,1630.6 L978.0,1633.5 L980.0,1636.3 L982.0,1639.2 L984.0,1642.1 L986.0,1645.0 L988.0,1647.9 L990.0,1650.8 L992.0,1653.8 L994.0,1656.7 L996.0,1659.6 L998.0,1662.5 L1000.0,1665.4 L1002.0,1668.3 L1004.0,1671.2 L1006.0,1674.1 L1008.0,1677.0 L1010.0,1679.9 L1012.0,1682.7 L1014.0,1685.6 L1016.0,1688.4 L1018.0,1691.2 L1020.0,1694.0 L1022.0,1696.8 L1024.0,1699.5 L1026.0,1702.2 L1028.0,1704.9 L1030.0,1707.6 L1032.0,1710.2 L1034.0,1712.9 L1036.0,1715.5 L1038.0,1718.0 L1040.0,1720.6 L1042.0,1723.1 L1044.0,1725.5 L1046.0,1728.0 L1048.0,1730.4 L1050.0,1732.8 L1052.0,1735.1 L1054.0,1737.4 L1056.0,1739.7 L1058.0,1741.9 L1060.0,1744.1 L1062.0,1746.3 L1064.0,1748.4 L1066.0,1750.5 L1068.0,1752.6 L1070.0,1754.6 L1072.0,1756.6 L1074.0,1758.5 L1076.0,1760.4 L1078.0,1762.3 L1080.0,1764.2 L1082.0,1766.0 L1084.0,1767.7 L1086.0,1769.4 L1088.0,1771.1 L1090.0,1772.8 L1092.0,1774.4 L1094.0,1776.0 L1096.0,1777.5 L1098.0,1779.0 L1100.0,1780.5 L1102.0,1781.9 L1104.0,1783.3 L1106.0,1784.7 L1108.0,1786.0 L1110.0,1787.3 L1112.0,1788.6 L1114.0,1789.8 L1116.0,1791.0 L1118.0,1792.2 L1120.0,1793.3 L1122.0,1794.4 L1124.0,1795.5 L1126.0,1796.5 L1128.0,1797.5 L1130.0,1798.5 L1132.0,1799.5 L1134.0,1800.4 L1136.0,1801.3 L1138.0,1802.2 L1140.0,1803.0 L1142.0,1803.8 L1144.0,1804.6 L1146.0,1805.4 L1148.0,1806.2 L1150.0,1806.9 L1152.0,1807.6 L1154.0,1808.2 L1156.0,1808.9 L1158.0,1809.5 L1160.0,1810.1 L1162.0,1810.7 L1164.0,1811.3 L1166.0,1811.9 L1168.0,1812.4 L1170.0,1812.9 L1172.0,1813.4 L1174.0,1813.9 L1176.0,1814.4 L1178.0,1814.8 L1180.0,1815.2 L1182.0,1815.6 L1184.0,1816.0 L1186.0,1816.4 L1188.0,1816.8 L1190.0,1817.2 L1192.0,1817.5 L1194.0,1817.8 L1196.0,1818.1 L1198.0,1818.5 L1200.0,1818.8 L1202.0,1819.0 L1204.0,1819.3 L1206.0,1819.6 L1208.0,1819.8 L1210.0,1820.1 L1212.0,1820.3 L1214.0,1820.5 L1216.0,1820.7 L1218.0,1821.0 L1220.0,1821.2 L1222.0,1821.3 L1224.0,1821.5 L1226.0,1821.7 L1228.0,1821.9 L1230.0,1822.0 L1232.0,1822.2 L1234.0,1822.3 L1236.0,1822.5 L1238.0,1822.6 L1240.0,1822.8 L1242.0,1822.9 L1244.0,1823.0 L1246.0,1823.1 L1248.0,1823.2 L1250.0,1823.4 L1252.0,1823.5 L1254.0,1823.6 L1256.0,1823.7 L1258.0,1823.8 L1260.0,1823.8 L1262.0,1823.9 L1264.0,1824.0 L1266.0,1824.1 L1268.0,1824.2 L1270.0,1824.2 L1272.0,1824.3 L1274.0,1824.4 L1276.0,1824.5 L1278.0,1824.5 L1280.0,1824.6 L1282.0,1824.6 L1284.0,1824.7 L1286.0,1824.8 L1288.0,1824.8 L1290.0,1824.9 L1292.0,1824.9 L1294.0,1825.0 L1296.0,1825.0 L1298.0,1825.1 L1300.0,1825.1 L1302.0,1825.1 L1304.0,1825.2 L1306.0,1825.2 L1308.0,1825.3 L1310.0,1825.3 L1312.0,1825.3 L1314.0,1825.4 L1316.0,1825.4 L1318.0,1825.4 L1320.0,1825.5 L1322.0,1825.5 L1324.0,1825.5 L1326.0,1825.6 L1328.0,1825.6 L1330.0,1825.6 L1332.0,1825.6 L1334.0,1825.7 L1336.0,1825.7 L1338.0,1825.7 L1340.0,1825.8" stroke="#000000" stroke-width="4.5" stroke-dasharray="16 25.5" stroke-linecap="round" fill="none"/>
<path d="M771.0,1822.8 L773.0,1822.6 L775.0,1822.3 L777.0,1822.1 L779.0,1821.9 L781.0,1821.6 L783.0,1821.3 L785.0,1821.0 L787.0,1820.7 L789.0,1820.4 L791.0,1820.0 L793.0,1819.7 L795.0,1819.3 L797.0,1818.9 L799.0,1818.4 L801.0,1818.0 L803.0,1817.5 L805.0,1817.0 L807.0,1816.4 L809.0,1815.9 L811.0,1815.3 L813.0,1814.7 L815.0,1814.0 L817.0,1813.3 L819.0,1812.6 L821.0,1811.9 L823.0,1811.1 L825.0,1810.3 L827.0,1809.5 L829.0,1808.6 L831.0,1807.7 L833.0,1806.7 L835.0,1805.8 L837.0,1804.7 L839.0,1803.7 L841.0,1802.6 L843.0,1801.5 L845.0,1800.3 L847.0,1799.1 L849.0,1797.9 L851.0,1796.6 L853.0,1795.3 L855.0,1793.9 L857.0,1792.5 L859.0,1791.1 L861.0,1789.7 L863.0,1788.2 L865.0,1786.6 L867.0,1785.1 L869.0,1783.5 L871.0,1781.8 L873.0,1780.2 L875.0,1778.5 L877.0,1776.8 L879.0,1775.0 L881.0,1773.2 L883.0,1771.4 L885.0,1769.6 L887.0,1767.8 L889.0,1765.9 L891.0,1764.1 L893.0,1762.2 L895.0,1760.3 L897.0,1758.4 L899.0,1756.4 L901.0,1754.5 L903.0,1752.6 L905.0,1750.7 L907.0,1748.8 L909.0,1746.8 L911.0,1744.9 L913.0,1743.1 L915.0,1741.2 L917.0,1739.3 L919.0,1737.5 L921.0,1735.7 L923.0,1733.9 L925.0,1732.1 L927.0,1730.4 L929.0,1728.7 L931.0,1727.1 L933.0,1725.5 L935.0,1723.9 L937.0,1722.4 L939.0,1721.0 L941.0,1719.6 L943.0,1718.2 L945.0,1716.9 L947.0,1715.7 L949.0,1714.6 L951.0,1713.5 L953.0,1712.4 L955.0,1711.5 L957.0,1710.6 L959.0,1709.8 L961.0,1709.1 L963.0,1708.4 L965.0,1707.9 L967.0,1707.4 L969.0,1707.0 L971.0,1706.6 L973.0,1706.4 L975.0,1706.2 L977.0,1706.2 L979.0,1706.2 L981.0,1706.3 L983.0,1706.4 L985.0,1706.7 L987.0,1707.1 L989.0,1707.5 L991.0,1708.0 L993.0,1708.6 L995.0,1709.3 L997.0,1710.0 L999.0,1710.8 L1001.0,1711.7 L1003.0,1712.7 L1005.0,1713.8 L1007.0,1714.9 L1009.0,1716.1 L1011.0,1717.3 L1013.0,1718.6 L1015.0,1720.0 L1017.0,1721.4 L1019.0,1722.9 L1021.0,1724.4 L1023.0,1726.0 L1025.0,1727.6 L1027.0,1729.3 L1029.0,1731.0 L1031.0,1732.8 L1033.0,1734.6 L1035.0,1736.4 L1037.0,1738.2 L1039.0,1740.1 L1041.0,1742.0 L1043.0,1743.9 L1045.0,1745.8 L1047.0,1747.7 L1049.0,1749.7 L1051.0,1751.6 L1053.0,1753.6 L1055.0,1755.5 L1057.0,1757.5 L1059.0,1759.4 L1061.0,1761.3 L1063.0,1763.3 L1065.0,1765.2 L1067.0,1767.1 L1069.0,1769.0 L1071.0,1770.9 L1073.0,1772.7 L1075.0,1774.5 L1077.0,1776.3 L1079.0,1778.1 L1081.0,1779.9 L1083.0,1781.6 L1085.0,1783.3 L1087.0,1784.9 L1089.0,1786.6 L1091.0,1788.2 L1093.0,1789.7 L1095.0,1791.3 L1097.0,1792.7 L1099.0,1794.2 L1101.0,1795.6 L1103.0,1797.0 L1105.0,1798.3 L1107.0,1799.6 L1109.0,1800.9 L1111.0,1802.1 L1113.0,1803.3 L1115.0,1804.5 L1117.0,1805.6 L1119.0,1806.7 L1121.0,1807.7 L1123.0,1808.7 L1125.0,1809.7 L1127.0,1810.6 L1129.0,1811.5 L1131.0,1812.4 L1133.0,1813.2 L1135.0,1814.0 L1137.0,1814.8 L1139.0,1815.5 L1141.0,1816.2 L1143.0,1816.9 L1145.0,1817.5 L1147.0,1818.1 L1149.0,1818.7 L1151.0,1819.3 L1153.0,1819.8 L1155.0,1820.3 L1157.0,1820.8 L1159.0,1821.2 L1161.0,1821.7 L1163.0,1822.1 L1165.0,1822.5 L1167.0,1822.8 L1169.0,1823.2 L1171.0,1823.5 L1173.0,1823.8 L1175.0,1824.1 L1177.0,1824.4 L1179.0,1824.7 L1181.0,1824.9 L1183.0,1825.1 L1185.0,1825.4 L1187.0,1825.6 L1189.0,1825.8 L1191.0,1825.9 L1193.0,1826.1 L1195.0,1826.3 L1197.0,1826.4 L1199.0,1826.5 L1201.0,1826.7" stroke="#000000" stroke-width="4.5" stroke-dasharray="16 25.5" stroke-linecap="round" fill="none"/>
<path d="M313.0,1824.1 L315.0,1824.0 L317.0,1824.0 L319.0,1824.0 L321.0,1824.0 L323.0,1824.0 L325.0,1824.0 L327.0,1823.9 L329.0,1823.9 L331.0,1823.9 L333.0,1823.9 L335.0,1823.9 L337.0,1823.8 L339.0,1823.8 L341.0,1823.8 L343.0,1823.8 L345.0,1823.7 L347.0,1823.7 L349.0,1823.7 L351.0,1823.7 L353.0,1823.7 L355.0,1823.6 L357.0,1823.6 L359.0,1823.6 L361.0,1823.6 L363.0,1823.5 L365.0,1823.5 L367.0,1823.5 L369.0,1823.5 L371.0,1823.4 L373.0,1823.4 L375.0,1823.4 L377.0,1823.4 L379.0,1823.3 L381.0,1823.3 L383.0,1823.3 L385.0,1823.3 L387.0,1823.2 L389.0,1823.2 L391.0,1823.2 L393.0,1823.1 L395.0,1823.1 L397.0,1823.1 L399.0,1823.0 L401.0,1823.0 L403.0,1823.0 L405.0,1823.0 L407.0,1822.9 L409.0,1822.9 L411.0,1822.9 L413.0,1822.8 L415.0,1822.8 L417.0,1822.8 L419.0,1822.7 L421.0,1822.7 L423.0,1822.6 L425.0,1822.6 L427.0,1822.6 L429.0,1822.5 L431.0,1822.5 L433.0,1822.5 L435.0,1822.4 L437.0,1822.4 L439.0,1822.3 L441.0,1822.3 L443.0,1822.3 L445.0,1822.2 L447.0,1822.2 L449.0,1822.1 L451.0,1822.1 L453.0,1822.0 L455.0,1822.0 L457.0,1821.9 L459.0,1821.9 L461.0,1821.8 L463.0,1821.8 L465.0,1821.7 L467.0,1821.7 L469.0,1821.6 L471.0,1821.6 L473.0,1821.5 L475.0,1821.4 L477.0,1821.4 L479.0,1821.3 L481.0,1821.2 L483.0,1821.2 L485.0,1821.1 L487.0,1821.0 L489.0,1821.0 L491.0,1820.9 L493.0,1820.8 L495.0,1820.7 L497.0,1820.7 L499.0,1820.6 L501.0,1820.5 L503.0,1820.4 L505.0,1820.3 L507.0,1820.2 L509.0,1820.1 L511.0,1820.0 L513.0,1819.9 L515.0,1819.8 L517.0,1819.7 L519.0,1819.6 L521.0,1819.5 L523.0,1819.3 L525.0,1819.2 L527.0,1819.1 L529.0,1819.0 L531.0,1818.8 L533.0,1818.7 L535.0,1818.5 L537.0,1818.4 L539.0,1818.2 L541.0,1818.0 L543.0,1817.9 L545.0,1817.7 L547.0,1817.5 L549.0,1817.3 L551.0,1817.1 L553.0,1816.9 L555.0,1816.7 L557.0,1816.5 L559.0,1816.2 L561.0,1816.0 L563.0,1815.7 L565.0,1815.5 L567.0,1815.2 L569.0,1814.9 L571.0,1814.6 L573.0,1814.3 L575.0,1814.0 L577.0,1813.7 L579.0,1813.4 L581.0,1813.0 L583.0,1812.7 L585.0,1812.3 L587.0,1811.9 L589.0,1811.5 L591.0,1811.1 L593.0,1810.7 L595.0,1810.2 L597.0,1809.8 L599.0,1809.3 L601.0,1808.8 L603.0,1808.3 L605.0,1807.8 L607.0,1807.2 L609.0,1806.6 L611.0,1806.1 L613.0,1805.5 L615.0,1804.8 L617.0,1804.2 L619.0,1803.5 L621.0,1802.8 L623.0,1802.1 L625.0,1801.4 L627.0,1800.6 L629.0,1799.8 L631.0,1799.0 L633.0,1798.2 L635.0,1797.3 L637.0,1796.4 L639.0,1795.5 L641.0,1794.6 L643.0,1793.6 L645.0,1792.6 L647.0,1791.6 L649.0,1790.6 L651.0,1789.5 L653.0,1788.4 L655.0,1787.2 L657.0,1786.1 L659.0,1784.9 L661.0,1783.6 L663.0,1782.3 L665.0,1781.0 L667.0,1779.7 L669.0,1778.3 L671.0,1776.9 L673.0,1775.5 L675.0,1774.0 L677.0,1772.5 L679.0,1771.0 L681.0,1769.4 L683.0,1767.8 L685.0,1766.2 L687.0,1764.5 L689.0,1762.7 L691.0,1761.0 L693.0,1759.2 L695.0,1757.4 L697.0,1755.5 L699.0,1753.6 L701.0,1751.7 L703.0,1749.7 L705.0,1747.7 L707.0,1745.6 L709.0,1743.5 L711.0,1741.4 L713.0,1739.2 L715.0,1737.0 L717.0,1734.8 L719.0,1732.5 L721.0,1730.2 L723.0,1727.8 L725.0,1725.5 L727.0,1723.0 L729.0,1720.6 L731.0,1718.1 L733.0,1715.6 L735.0,1713.0 L737.0,1710.4 L739.0,1707.8 L741.0,1705.1 L743.0,1702.4 L745.0,1699.7 L747.0,1696.9 L749.0,1694.1 L751.0,1691.3 L753.0,1688.4 L755.0,1685.5 L757.0,1682.6 L759.0,1679.7 L761.0,1676.7 L763.0,1673.7 L765.0,1670.7 L767.0,1667.6 L769.0,1664.6 L771.0,1661.5 L773.0,1658.3 L775.0,1655.2 L777.0,1652.1 L779.0,1648.9 L781.0,1645.7 L783.0,1642.5 L785.0,1639.3 L787.0,1636.0 L789.0,1632.8 L791.0,1629.5 L793.0,1626.3 L795.0,1623.0 L797.0,1619.7 L799.0,1616.4 L801.0,1613.1 L803.0,1609.9 L805.0,1606.6 L807.0,1603.3 L809.0,1600.0 L811.0,1596.8 L813.0,1593.5 L815.0,1590.3 L817.0,1587.1 L819.0,1583.8 L821.0,1580.6 L823.0,1577.5 L825.0,1574.3 L827.0,1571.2 L829.0,1568.1 L831.0,1565.0 L833.0,1561.9 L835.0,1558.9 L837.0,1555.9 L839.0,1552.9 L841.0,1550.0 L843.0,1547.1 L845.0,1544.2 L847.0,1541.4 L849.0,1538.6 L851.0,1535.9 L853.0,1533.1 L855.0,1530.5 L857.0,1527.9 L859.0,1525.3 L861.0,1522.8 L863.0,1520.3 L865.0,1517.9 L867.0,1515.5 L869.0,1513.2 L871.0,1510.9 L873.0,1508.7 L875.0,1506.5 L877.0,1504.4 L879.0,1502.4 L881.0,1500.4 L883.0,1498.5 L885.0,1496.6 L887.0,1494.9 L889.0,1493.1 L891.0,1491.5 L893.0,1489.9 L895.0,1488.4 L897.0,1486.9 L899.0,1485.6 L901.0,1484.3 L903.0,1483.1 L905.0,1482.0 L907.0,1480.9 L909.0,1480.0 L911.0,1479.1 L913.0,1478.4 L915.0,1477.7 L917.0,1477.1 L919.0,1476.6 L921.0,1476.2 L923.0,1475.9 L925.0,1475.8 L927.0,1475.7 L929.0,1475.7 L931.0,1475.8 L933.0,1476.1 L935.0,1476.4 L937.0,1476.9 L939.0,1477.5 L941.0,1478.2 L943.0,1479.0 L945.0,1479.9 L947.0,1481.0 L949.0,1482.2 L951.0,1483.5 L953.0,1484.9 L955.0,1486.4 L957.0,1488.1 L959.0,1489.8 L961.0,1491.7 L963.0,1493.7 L965.0,1495.9 L967.0,1498.1 L969.0,1500.5 L971.0,1502.9 L973.0,1505.5 L975.0,1508.2 L977.0,1511.0 L979.0,1513.9 L981.0,1516.9 L983.0,1520.0 L985.0,1523.2 L987.0,1526.5 L989.0,1529.8 L991.0,1533.3 L993.0,1536.9 L995.0,1540.5 L997.0,1544.2 L999.0,1548.0 L1001.0,1551.8 L1003.0,1555.7 L1005.0,1559.7 L1007.0,1563.7 L1009.0,1567.8 L1011.0,1571.9 L1013.0,1576.1 L1015.0,1580.3 L1017.0,1584.5 L1019.0,1588.8 L1021.0,1593.1 L1023.0,1597.4 L1025.0,1601.7 L1027.0,1606.1 L1029.0,1610.5 L1031.0,1614.8 L1033.0,1619.2 L1035.0,1623.6 L1037.0,1628.0 L1039.0,1632.3 L1041.0,1636.7 L1043.0,1641.0 L1045.0,1645.3 L1047.0,1649.6 L1049.0,1653.9 L1051.0,1658.1 L1053.0,1662.4 L1055.0,1666.5 L1057.0,1670.7 L1059.0,1674.8 L1061.0,1678.8 L1063.0,1682.8 L1065.0,1686.8 L1067.0,1690.7 L1069.0,1694.6 L1071.0,1698.4 L1073.0,1702.1 L1075.0,1705.8 L1077.0,1709.4 L1079.0,1713.0 L1081.0,1716.5 L1083.0,1720.0 L1085.0,1723.4 L1087.0,1726.7 L1089.0,1729.9 L1091.0,1733.1 L1093.0,1736.2 L1095.0,1739.3 L1097.0,1742.3 L1099.0,1745.2 L1101.0,1748.0 L1103.0,1750.8 L1105.0,1753.5 L1107.0,1756.2 L1109.0,1758.7 L1111.0,1761.2 L1113.0,1763.7 L1115.0,1766.0 L1117.0,1768.3 L1119.0,1770.5 L1121.0,1772.7 L1123.0,1774.8 L1125.0,1776.8 L1127.0,1778.8 L1129.0,1780.7 L1131.0,1782.6 L1133.0,1784.4 L1135.0,1786.1 L1137.0,1787.8 L1139.0,1789.4 L1141.0,1790.9 L1143.0,1792.4 L1145.0,1793.9 L1147.0,1795.3 L1149.0,1796.6 L1151.0,1797.9 L1153.0,1799.1 L1155.0,1800.3 L1157.0,1801.5 L1159.0,1802.6 L1161.0,1803.6 L1163.0,1804.6 L1165.0,1805.6 L1167.0,1806.6 L1169.0,1807.4 L1171.0,1808.3 L1173.0,1809.1 L1175.0,1809.9 L1177.0,1810.7 L1179.0,1811.4 L1181.0,1812.1 L1183.0,1812.7 L1185.0,1813.3 L1187.0,1813.9 L1189.0,1814.5 L1191.0,1815.1 L1193.0,1815.6 L1195.0,1816.1 L1197.0,1816.5 L1199.0,1817.0 L1201.0,1817.4 L1203.0,1817.8 L1205.0,1818.2 L1207.0,1818.6 L1209.0,1819.0 L1211.0,1819.3 L1213.0,1819.6 L1215.0,1819.9 L1217.0,1820.2 L1219.0,1820.5 L1221.0,1820.7 L1223.0,1821.0 L1225.0,1821.2 L1227.0,1821.5 L1229.0,1821.7 L1231.0,1821.9 L1233.0,1822.1 L1235.0,1822.3 L1237.0,1822.4 L1239.0,1822.6 L1241.0,1822.8 L1243.0,1822.9 L1245.0,1823.1 L1247.0,1823.2 L1249.0,1823.3 L1251.0,1823.5 L1253.0,1823.6 L1255.0,1823.7 L1257.0,1823.8 L1259.0,1823.9 L1261.0,1824.0 L1263.0,1824.1 L1265.0,1824.2 L1267.0,1824.3 L1269.0,1824.4 L1271.0,1824.5 L1273.0,1824.5 L1275.0,1824.6 L1277.0,1824.7 L1279.0,1824.8 L1281.0,1824.8 L1283.0,1824.9 L1285.0,1825.0 L1287.0,1825.0 L1289.0,1825.1 L1291.0,1825.1 L1293.0,1825.2 L1295.0,1825.3 L1297.0,1825.3 L1299.0,1825.4 L1301.0,1825.4 L1303.0,1825.5 L1305.0,1825.5 L1307.0,1825.5 L1309.0,1825.6 L1311.0,1825.6 L1313.0,1825.7 L1315.0,1825.7 L1317.0,1825.8 L1319.0,1825.8 L1321.0,1825.8 L1323.0,1825.9 L1325.0,1825.9 L1327.0,1825.9 L1329.0,1826.0 L1331.0,1826.0 L1333.0,1826.0 L1335.0,1826.1 L1337.0,1826.1 L1339.0,1826.1 L1341.0,1826.2" stroke="#000000" stroke-width="7.8" stroke-linejoin="round" fill="none"/>
<line x1="241.13" y1="1895" x2="241.13" y2="1883.5" stroke="#000" stroke-width="6.3"/>
<line x1="343.47" y1="1895" x2="343.47" y2="1872" stroke="#000" stroke-width="6.3"/>
<line x1="445.80" y1="1895" x2="445.80" y2="1883.5" stroke="#000" stroke-width="6.3"/>
<line x1="548.13" y1="1895" x2="548.13" y2="1872" stroke="#000" stroke-width="6.3"/>
<line x1="650.47" y1="1895" x2="650.47" y2="1883.5" stroke="#000" stroke-width="6.3"/>
<line x1="752.80" y1="1895" x2="752.80" y2="1872" stroke="#000" stroke-width="6.3"/>
<line x1="855.13" y1="1895" x2="855.13" y2="1883.5" stroke="#000" stroke-width="6.3"/>
<line x1="957.47" y1="1895" x2="957.47" y2="1872" stroke="#000" stroke-width="6.3"/>
<line x1="1059.80" y1="1895" x2="1059.80" y2="1883.5" stroke="#000" stroke-width="6.3"/>
<line x1="1162.13" y1="1895" x2="1162.13" y2="1872" stroke="#000" stroke-width="6.3"/>
<line x1="1264.47" y1="1895" x2="1264.47" y2="1883.5" stroke="#000" stroke-width="6.3"/>
<text x="138.80" y="1969.8" text-anchor="middle" class="tl" transform="translate(0,1969.8) scale(1,1.048) translate(0,-1969.8)">538</text>
<text x="343.47" y="1969.8" text-anchor="middle" class="tl" transform="translate(0,1969.8) scale(1,1.048) translate(0,-1969.8)">536</text>
<text x="548.13" y="1969.8" text-anchor="middle" class="tl" transform="translate(0,1969.8) scale(1,1.048) translate(0,-1969.8)">534</text>
<text x="752.80" y="1969.8" text-anchor="middle" class="tl" transform="translate(0,1969.8) scale(1,1.048) translate(0,-1969.8)">532</text>
<text x="957.47" y="1969.8" text-anchor="middle" class="tl" transform="translate(0,1969.8) scale(1,1.048) translate(0,-1969.8)">530</text>
<text x="1162.13" y="1969.8" text-anchor="middle" class="tl" transform="translate(0,1969.8) scale(1,1.048) translate(0,-1969.8)">528</text>
<text x="1366.80" y="1969.8" text-anchor="middle" class="tl" transform="translate(0,1969.8) scale(1,1.048) translate(0,-1969.8)">526</text>
<text x="153.7 206.8 245.8 267.1 310.2" y="357.2" font-size="63.8"  transform="translate(0,357.2) scale(1,1.04) translate(0,-357.2)">Mn-Cu</text>
<path d="M360.4,311.0 L366.7,311.0 L355.5,357.5 L349.2,357.5 Z" fill="#000"/>
<path d="M 0.3,-18.6 C 0.2,-22 1.8,-30.4 5.9,-30.4 C 9.5,-30.4 11.5,-26.5 12.8,-22.5 L 15.3,-12 L 19.6,-29.25 L 28.9,-29.25 L 17.2,-3.5 C 17.6,2 17.8,6 17.3,9 C 16.8,12 15,13.1 13.0,13.1 C 10.9,13.1 9.3,11.5 9.4,9.0 C 9.6,5.5 12.5,0 14.3,-4.5 C 13.6,-10 12.2,-17 10.3,-21 C 9.1,-23.5 7.3,-24.8 5.4,-24.8 C 3.5,-24.8 1.8,-22.5 1.3,-18.8 Z" transform="translate(366.7,357.2)" fill="#000"/>
<text x="397.2 415.9 503.5" y="357.2" font-size="63.8"  transform="translate(0,357.2) scale(1,1.04) translate(0,-357.2)">-AO</text>
<rect x="467.0" y="312.2" width="8.9" height="45.0" fill="#000"/>
<text x="479.7 553.6" y="374.0" font-size="42.5"  transform="translate(0,374.0) scale(1,1.04) translate(0,-374.0)">23</text>
<text x="153.7 206.8 245.8 267.1 310.2" y="827.5" font-size="63.8"  transform="translate(0,827.5) scale(1,1.04) translate(0,-827.5)">Mn-Co</text>
<path d="M360.7,781.3 L367.0,781.3 L355.8,827.8 L349.5,827.8 Z" fill="#000"/>
<path d="M 0.3,-18.6 C 0.2,-22 1.8,-30.4 5.9,-30.4 C 9.5,-30.4 11.5,-26.5 12.8,-22.5 L 15.3,-12 L 19.6,-29.25 L 28.9,-29.25 L 17.2,-3.5 C 17.6,2 17.8,6 17.3,9 C 16.8,12 15,13.1 13.0,13.1 C 10.9,13.1 9.3,11.5 9.4,9.0 C 9.6,5.5 12.5,0 14.3,-4.5 C 13.6,-10 12.2,-17 10.3,-21 C 9.1,-23.5 7.3,-24.8 5.4,-24.8 C 3.5,-24.8 1.8,-22.5 1.3,-18.8 Z" transform="translate(367.0,827.5)" fill="#000"/>
<text x="397.6 416.3 503.9" y="827.5" font-size="63.8"  transform="translate(0,827.5) scale(1,1.04) translate(0,-827.5)">-AO</text>
<rect x="467.4" y="782.5" width="8.9" height="45.0" fill="#000"/>
<text x="480.1 554.0" y="844.3" font-size="42.5"  transform="translate(0,844.3) scale(1,1.04) translate(0,-844.3)">23</text>
<text x="157.9 211.0 250.0 271.3 314.4" y="1284.8" font-size="63.8"  transform="translate(0,1284.8) scale(1,1.04) translate(0,-1284.8)">Mn-Ce</text>
<path d="M361.6,1238.6 L367.9,1238.6 L356.7,1285.1 L350.4,1285.1 Z" fill="#000"/>
<path d="M 0.3,-18.6 C 0.2,-22 1.8,-30.4 5.9,-30.4 C 9.5,-30.4 11.5,-26.5 12.8,-22.5 L 15.3,-12 L 19.6,-29.25 L 28.9,-29.25 L 17.2,-3.5 C 17.6,2 17.8,6 17.3,9 C 16.8,12 15,13.1 13.0,13.1 C 10.9,13.1 9.3,11.5 9.4,9.0 C 9.6,5.5 12.5,0 14.3,-4.5 C 13.6,-10 12.2,-17 10.3,-21 C 9.1,-23.5 7.3,-24.8 5.4,-24.8 C 3.5,-24.8 1.8,-22.5 1.3,-18.8 Z" transform="translate(367.9,1284.8)" fill="#000"/>
<text x="398.6 417.3 504.9" y="1284.8" font-size="63.8"  transform="translate(0,1284.8) scale(1,1.04) translate(0,-1284.8)">-AO</text>
<rect x="468.4" y="1239.8" width="8.9" height="45.0" fill="#000"/>
<text x="481.1 555.0" y="1301.6" font-size="42.5"  transform="translate(0,1301.6) scale(1,1.04) translate(0,-1301.6)">23</text>
<text x="153.7 206.5 244.6" y="1776.2" font-size="63.8"  transform="translate(0,1776.2) scale(1,1.04) translate(0,-1776.2)">MnO</text>
<path d="M328.4,1730.0 L334.7,1730.0 L323.5,1776.5 L317.2,1776.5 Z" fill="#000"/>
<text x="295.3" y="1793.0" font-size="42.5" font-style="italic" transform="translate(0,1793.0) scale(1,1.04) translate(0,-1793.0)">x</text>
<path d="M 0.3,-18.6 C 0.2,-22 1.8,-30.4 5.9,-30.4 C 9.5,-30.4 11.5,-26.5 12.8,-22.5 L 15.3,-12 L 19.6,-29.25 L 28.9,-29.25 L 17.2,-3.5 C 17.6,2 17.8,6 17.3,9 C 16.8,12 15,13.1 13.0,13.1 C 10.9,13.1 9.3,11.5 9.4,9.0 C 9.6,5.5 12.5,0 14.3,-4.5 C 13.6,-10 12.2,-17 10.3,-21 C 9.1,-23.5 7.3,-24.8 5.4,-24.8 C 3.5,-24.8 1.8,-22.5 1.3,-18.8 Z" transform="translate(334.7,1776.2)" fill="#000"/>
<text x="365.6 384.3 471.9" y="1776.2" font-size="63.8"  transform="translate(0,1776.2) scale(1,1.04) translate(0,-1776.2)">-AO</text>
<rect x="435.4" y="1731.2" width="8.9" height="45.0" fill="#000"/>
<text x="448.1 522.0" y="1793.0" font-size="42.5"  transform="translate(0,1793.0) scale(1,1.04) translate(0,-1793.0)">23</text>
<text x="402.2" y="2088.4" class="at" transform="translate(0,2088.4) scale(1,1.04) translate(0,-2088.4)">Binding energy (eV)</text>
<text transform="translate(75.6,1145.4) rotate(-90) scale(1,1.04)" x="0" y="0" class="at">Intensity (a.u.)</text>
</svg></body></html>
